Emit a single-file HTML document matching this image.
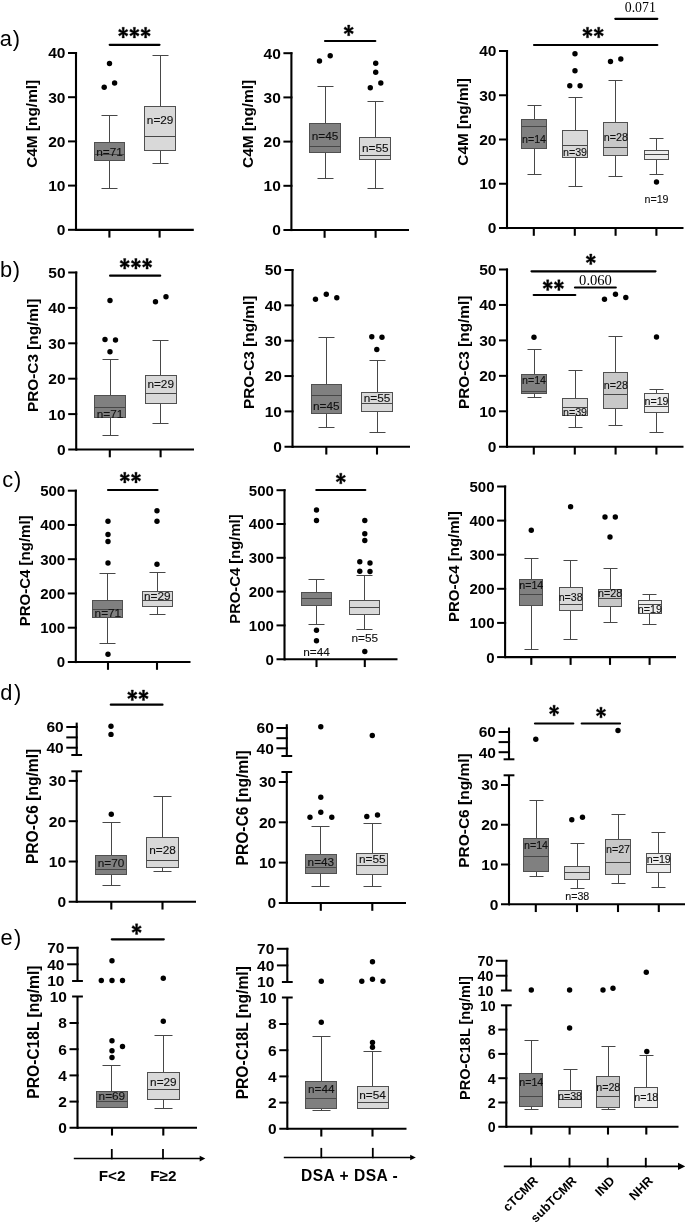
<!DOCTYPE html>
<html><head><meta charset="utf-8"><title>Figure</title>
<style>html,body{margin:0;padding:0;background:#fff;}svg{display:block;will-change:transform;}</style></head>
<body>
<svg width="685" height="1226" viewBox="0 0 685 1226">
<rect width="685" height="1226" fill="#fff"/>
<line x1="76" y1="52" x2="76" y2="230.9" stroke="#000" stroke-width="2.1" stroke-linecap="butt"/>
<line x1="68" y1="53" x2="77.05" y2="53" stroke="#000" stroke-width="2" stroke-linecap="butt"/>
<text x="65.4" y="58.4" font-family="'Liberation Sans', sans-serif" font-size="15.5" font-weight="bold" text-anchor="end" fill="#000">40</text>
<line x1="68" y1="97.2" x2="77.05" y2="97.2" stroke="#000" stroke-width="2" stroke-linecap="butt"/>
<text x="65.4" y="102.6" font-family="'Liberation Sans', sans-serif" font-size="15.5" font-weight="bold" text-anchor="end" fill="#000">30</text>
<line x1="68" y1="141.4" x2="77.05" y2="141.4" stroke="#000" stroke-width="2" stroke-linecap="butt"/>
<text x="65.4" y="146.8" font-family="'Liberation Sans', sans-serif" font-size="15.5" font-weight="bold" text-anchor="end" fill="#000">20</text>
<line x1="68" y1="185.6" x2="77.05" y2="185.6" stroke="#000" stroke-width="2" stroke-linecap="butt"/>
<text x="65.4" y="191" font-family="'Liberation Sans', sans-serif" font-size="15.5" font-weight="bold" text-anchor="end" fill="#000">10</text>
<line x1="68" y1="229.8" x2="77.05" y2="229.8" stroke="#000" stroke-width="2" stroke-linecap="butt"/>
<text x="65.4" y="235.2" font-family="'Liberation Sans', sans-serif" font-size="15.5" font-weight="bold" text-anchor="end" fill="#000">0</text>
<line x1="76" y1="229.8" x2="193.8" y2="229.8" stroke="#000" stroke-width="2.2" stroke-linecap="butt"/>
<line x1="109.4" y1="229.8" x2="109.4" y2="237.6" stroke="#000" stroke-width="2.1" stroke-linecap="butt"/>
<line x1="159.6" y1="229.8" x2="159.6" y2="237.6" stroke="#000" stroke-width="2.1" stroke-linecap="butt"/>
<text transform="translate(37.2 123.8) rotate(-90)" font-family="'Liberation Sans', sans-serif" font-size="15.4" font-weight="bold" text-anchor="middle" fill="#000">C4M [ng/ml]</text>
<line x1="109.5" y1="115.5" x2="109.5" y2="142.5" stroke="#474747" stroke-width="1" stroke-linecap="butt"/>
<line x1="101.5" y1="115.5" x2="117.5" y2="115.5" stroke="#474747" stroke-width="1" stroke-linecap="butt"/>
<line x1="109.5" y1="160.5" x2="109.5" y2="188.5" stroke="#474747" stroke-width="1" stroke-linecap="butt"/>
<line x1="101.5" y1="188.5" x2="117.5" y2="188.5" stroke="#474747" stroke-width="1" stroke-linecap="butt"/>
<rect x="94.5" y="142.5" width="30" height="18" fill="#808080" stroke="#505050" stroke-width="1"/>
<line x1="94.5" y1="154.5" x2="124.5" y2="154.5" stroke="#474747" stroke-width="1" stroke-linecap="butt"/>
<text x="109.5" y="155.82" font-family="'Liberation Sans', sans-serif" font-size="11.8"  text-anchor="middle" fill="#101010" stroke="#101010" stroke-width="0.12">n=71</text>
<line x1="160.5" y1="55.5" x2="160.5" y2="106.5" stroke="#474747" stroke-width="1" stroke-linecap="butt"/>
<line x1="152.5" y1="55.5" x2="168.5" y2="55.5" stroke="#474747" stroke-width="1" stroke-linecap="butt"/>
<line x1="160.5" y1="150.5" x2="160.5" y2="163.5" stroke="#474747" stroke-width="1" stroke-linecap="butt"/>
<line x1="152.5" y1="163.5" x2="168.5" y2="163.5" stroke="#474747" stroke-width="1" stroke-linecap="butt"/>
<rect x="144.5" y="106.5" width="31" height="44" fill="#d9d9d9" stroke="#505050" stroke-width="1"/>
<line x1="144.5" y1="136.5" x2="175.5" y2="136.5" stroke="#474747" stroke-width="1" stroke-linecap="butt"/>
<text x="160.15" y="123.92" font-family="'Liberation Sans', sans-serif" font-size="11.8"  text-anchor="middle" fill="#101010" stroke="#101010" stroke-width="0.12">n=29</text>
<circle cx="109.5" cy="63.5" r="2.7" fill="#000"/>
<circle cx="114.6" cy="83" r="2.7" fill="#000"/>
<circle cx="104.2" cy="87.2" r="2.7" fill="#000"/>
<line x1="109.7" y1="44.8" x2="159.5" y2="44.8" stroke="#000" stroke-width="2.2" stroke-linecap="round"/>
<path d="M123.9 32.6L124.35 27.3L122.05 27.3L122.5 32.6ZM123.55 33.21L128.04 30.95L126.89 29.14L122.85 31.99ZM122.85 33.21L126.89 36.25L128.04 34.07L123.55 31.99ZM123.55 31.99L119.51 28.95L118.36 31.13L122.85 33.21ZM122.85 31.99L118.36 34.25L119.51 36.06L123.55 33.21ZM122.5 32.6L122.05 37.9L124.35 37.9L123.9 32.6Z" fill="#000" stroke="#000" stroke-width="0.35" stroke-linejoin="round"/>
<path d="M135.1 32.6L135.55 27.3L133.25 27.3L133.7 32.6ZM134.75 33.21L139.24 30.95L138.09 29.14L134.05 31.99ZM134.05 33.21L138.09 36.25L139.24 34.07L134.75 31.99ZM134.75 31.99L130.71 28.95L129.56 31.13L134.05 33.21ZM134.05 31.99L129.56 34.25L130.71 36.06L134.75 33.21ZM133.7 32.6L133.25 37.9L135.55 37.9L135.1 32.6Z" fill="#000" stroke="#000" stroke-width="0.35" stroke-linejoin="round"/>
<path d="M146.3 32.6L146.75 27.3L144.45 27.3L144.9 32.6ZM145.95 33.21L150.44 30.95L149.29 29.14L145.25 31.99ZM145.25 33.21L149.29 36.25L150.44 34.07L145.95 31.99ZM145.95 31.99L141.91 28.95L140.76 31.13L145.25 33.21ZM145.25 31.99L140.76 34.25L141.91 36.06L145.95 33.21ZM144.9 32.6L144.45 37.9L146.75 37.9L146.3 32.6Z" fill="#000" stroke="#000" stroke-width="0.35" stroke-linejoin="round"/>
<line x1="291.4" y1="52.2" x2="291.4" y2="231.1" stroke="#000" stroke-width="2.1" stroke-linecap="butt"/>
<line x1="283.4" y1="53.2" x2="292.45" y2="53.2" stroke="#000" stroke-width="2" stroke-linecap="butt"/>
<text x="280.8" y="58.6" font-family="'Liberation Sans', sans-serif" font-size="15.5" font-weight="bold" text-anchor="end" fill="#000">40</text>
<line x1="283.4" y1="97.4" x2="292.45" y2="97.4" stroke="#000" stroke-width="2" stroke-linecap="butt"/>
<text x="280.8" y="102.8" font-family="'Liberation Sans', sans-serif" font-size="15.5" font-weight="bold" text-anchor="end" fill="#000">30</text>
<line x1="283.4" y1="141.6" x2="292.45" y2="141.6" stroke="#000" stroke-width="2" stroke-linecap="butt"/>
<text x="280.8" y="147" font-family="'Liberation Sans', sans-serif" font-size="15.5" font-weight="bold" text-anchor="end" fill="#000">20</text>
<line x1="283.4" y1="185.8" x2="292.45" y2="185.8" stroke="#000" stroke-width="2" stroke-linecap="butt"/>
<text x="280.8" y="191.2" font-family="'Liberation Sans', sans-serif" font-size="15.5" font-weight="bold" text-anchor="end" fill="#000">10</text>
<line x1="283.4" y1="230" x2="292.45" y2="230" stroke="#000" stroke-width="2" stroke-linecap="butt"/>
<text x="280.8" y="235.4" font-family="'Liberation Sans', sans-serif" font-size="15.5" font-weight="bold" text-anchor="end" fill="#000">0</text>
<line x1="291.4" y1="230" x2="409" y2="230" stroke="#000" stroke-width="2.2" stroke-linecap="butt"/>
<line x1="324.6" y1="230" x2="324.6" y2="237.8" stroke="#000" stroke-width="2.1" stroke-linecap="butt"/>
<line x1="375.6" y1="230" x2="375.6" y2="237.8" stroke="#000" stroke-width="2.1" stroke-linecap="butt"/>
<text transform="translate(252.7 123.85) rotate(-90)" font-family="'Liberation Sans', sans-serif" font-size="15.4" font-weight="bold" text-anchor="middle" fill="#000">C4M [ng/ml]</text>
<line x1="325.5" y1="86.5" x2="325.5" y2="123.5" stroke="#474747" stroke-width="1" stroke-linecap="butt"/>
<line x1="317.5" y1="86.5" x2="333.5" y2="86.5" stroke="#474747" stroke-width="1" stroke-linecap="butt"/>
<line x1="325.5" y1="152.5" x2="325.5" y2="178.5" stroke="#474747" stroke-width="1" stroke-linecap="butt"/>
<line x1="317.5" y1="178.5" x2="333.5" y2="178.5" stroke="#474747" stroke-width="1" stroke-linecap="butt"/>
<rect x="309.5" y="123.5" width="31" height="29" fill="#808080" stroke="#505050" stroke-width="1"/>
<line x1="309.5" y1="146.5" x2="340.5" y2="146.5" stroke="#474747" stroke-width="1" stroke-linecap="butt"/>
<text x="325.1" y="140.42" font-family="'Liberation Sans', sans-serif" font-size="11.8"  text-anchor="middle" fill="#101010" stroke="#101010" stroke-width="0.12">n=45</text>
<line x1="375.5" y1="101.5" x2="375.5" y2="137.5" stroke="#474747" stroke-width="1" stroke-linecap="butt"/>
<line x1="367.5" y1="101.5" x2="383.5" y2="101.5" stroke="#474747" stroke-width="1" stroke-linecap="butt"/>
<line x1="375.5" y1="159.5" x2="375.5" y2="188.5" stroke="#474747" stroke-width="1" stroke-linecap="butt"/>
<line x1="367.5" y1="188.5" x2="383.5" y2="188.5" stroke="#474747" stroke-width="1" stroke-linecap="butt"/>
<rect x="359.5" y="137.5" width="31" height="22" fill="#d9d9d9" stroke="#505050" stroke-width="1"/>
<line x1="359.5" y1="155.5" x2="390.5" y2="155.5" stroke="#474747" stroke-width="1" stroke-linecap="butt"/>
<text x="375.3" y="151.82" font-family="'Liberation Sans', sans-serif" font-size="11.8"  text-anchor="middle" fill="#101010" stroke="#101010" stroke-width="0.12">n=55</text>
<circle cx="319.5" cy="61" r="2.7" fill="#000"/>
<circle cx="330.2" cy="55.8" r="2.7" fill="#000"/>
<circle cx="375.7" cy="63.3" r="2.7" fill="#000"/>
<circle cx="375.7" cy="72.3" r="2.7" fill="#000"/>
<circle cx="380.8" cy="83" r="2.7" fill="#000"/>
<circle cx="370.3" cy="87.7" r="2.7" fill="#000"/>
<line x1="325" y1="41" x2="375.3" y2="41" stroke="#000" stroke-width="2.2" stroke-linecap="round"/>
<path d="M349.4 30.4L349.85 25.1L347.55 25.1L348 30.4ZM349.05 31.01L353.54 28.75L352.39 26.94L348.35 29.79ZM348.35 31.01L352.39 34.05L353.54 31.87L349.05 29.79ZM349.05 29.79L345.01 26.75L343.86 28.93L348.35 31.01ZM348.35 29.79L343.86 32.05L345.01 33.86L349.05 31.01ZM348 30.4L347.55 35.7L349.85 35.7L349.4 30.4Z" fill="#000" stroke="#000" stroke-width="0.35" stroke-linejoin="round"/>
<line x1="507" y1="50" x2="507" y2="229.1" stroke="#000" stroke-width="2.1" stroke-linecap="butt"/>
<line x1="499" y1="51" x2="508.05" y2="51" stroke="#000" stroke-width="2" stroke-linecap="butt"/>
<text x="496.4" y="56.4" font-family="'Liberation Sans', sans-serif" font-size="15.5" font-weight="bold" text-anchor="end" fill="#000">40</text>
<line x1="499" y1="95.25" x2="508.05" y2="95.25" stroke="#000" stroke-width="2" stroke-linecap="butt"/>
<text x="496.4" y="100.65" font-family="'Liberation Sans', sans-serif" font-size="15.5" font-weight="bold" text-anchor="end" fill="#000">30</text>
<line x1="499" y1="139.5" x2="508.05" y2="139.5" stroke="#000" stroke-width="2" stroke-linecap="butt"/>
<text x="496.4" y="144.9" font-family="'Liberation Sans', sans-serif" font-size="15.5" font-weight="bold" text-anchor="end" fill="#000">20</text>
<line x1="499" y1="183.75" x2="508.05" y2="183.75" stroke="#000" stroke-width="2" stroke-linecap="butt"/>
<text x="496.4" y="189.15" font-family="'Liberation Sans', sans-serif" font-size="15.5" font-weight="bold" text-anchor="end" fill="#000">10</text>
<line x1="499" y1="228" x2="508.05" y2="228" stroke="#000" stroke-width="2" stroke-linecap="butt"/>
<text x="496.4" y="233.4" font-family="'Liberation Sans', sans-serif" font-size="15.5" font-weight="bold" text-anchor="end" fill="#000">0</text>
<line x1="507" y1="228" x2="683.5" y2="228" stroke="#000" stroke-width="2.2" stroke-linecap="butt"/>
<line x1="533.8" y1="228" x2="533.8" y2="235.8" stroke="#000" stroke-width="2.1" stroke-linecap="butt"/>
<line x1="574.8" y1="228" x2="574.8" y2="235.8" stroke="#000" stroke-width="2.1" stroke-linecap="butt"/>
<line x1="615.6" y1="228" x2="615.6" y2="235.8" stroke="#000" stroke-width="2.1" stroke-linecap="butt"/>
<line x1="656.4" y1="228" x2="656.4" y2="235.8" stroke="#000" stroke-width="2.1" stroke-linecap="butt"/>
<text transform="translate(468.3 121.9) rotate(-90)" font-family="'Liberation Sans', sans-serif" font-size="15.3" font-weight="bold" text-anchor="middle" fill="#000">C4M [ng/ml]</text>
<line x1="534.5" y1="105.5" x2="534.5" y2="119.5" stroke="#474747" stroke-width="1" stroke-linecap="butt"/>
<line x1="527.5" y1="105.5" x2="541.5" y2="105.5" stroke="#474747" stroke-width="1" stroke-linecap="butt"/>
<line x1="534.5" y1="148.5" x2="534.5" y2="174.5" stroke="#474747" stroke-width="1" stroke-linecap="butt"/>
<line x1="527.5" y1="174.5" x2="541.5" y2="174.5" stroke="#474747" stroke-width="1" stroke-linecap="butt"/>
<rect x="521.5" y="119.5" width="25" height="29" fill="#808080" stroke="#505050" stroke-width="1"/>
<line x1="521.5" y1="126.5" x2="546.5" y2="126.5" stroke="#474747" stroke-width="1" stroke-linecap="butt"/>
<text x="534" y="142.53" font-family="'Liberation Sans', sans-serif" font-size="10.7"  text-anchor="middle" fill="#101010" stroke="#101010" stroke-width="0.12">n=14</text>
<line x1="575.5" y1="97.5" x2="575.5" y2="130.5" stroke="#474747" stroke-width="1" stroke-linecap="butt"/>
<line x1="568.5" y1="97.5" x2="582.5" y2="97.5" stroke="#474747" stroke-width="1" stroke-linecap="butt"/>
<line x1="575.5" y1="157.5" x2="575.5" y2="186.5" stroke="#474747" stroke-width="1" stroke-linecap="butt"/>
<line x1="568.5" y1="186.5" x2="582.5" y2="186.5" stroke="#474747" stroke-width="1" stroke-linecap="butt"/>
<rect x="562.5" y="130.5" width="25" height="27" fill="#d9d9d9" stroke="#505050" stroke-width="1"/>
<line x1="562.5" y1="145.5" x2="587.5" y2="145.5" stroke="#474747" stroke-width="1" stroke-linecap="butt"/>
<text x="575" y="155.53" font-family="'Liberation Sans', sans-serif" font-size="10.7"  text-anchor="middle" fill="#101010" stroke="#101010" stroke-width="0.12">n=39</text>
<line x1="615.5" y1="80.5" x2="615.5" y2="122.5" stroke="#474747" stroke-width="1" stroke-linecap="butt"/>
<line x1="608.5" y1="80.5" x2="622.5" y2="80.5" stroke="#474747" stroke-width="1" stroke-linecap="butt"/>
<line x1="615.5" y1="155.5" x2="615.5" y2="176.5" stroke="#474747" stroke-width="1" stroke-linecap="butt"/>
<line x1="608.5" y1="176.5" x2="622.5" y2="176.5" stroke="#474747" stroke-width="1" stroke-linecap="butt"/>
<rect x="603.5" y="122.5" width="24" height="33" fill="#c8c8c8" stroke="#505050" stroke-width="1"/>
<line x1="603.5" y1="147.5" x2="627.5" y2="147.5" stroke="#474747" stroke-width="1" stroke-linecap="butt"/>
<text x="615.8" y="140.53" font-family="'Liberation Sans', sans-serif" font-size="10.7"  text-anchor="middle" fill="#101010" stroke="#101010" stroke-width="0.12">n=28</text>
<line x1="656.5" y1="138.5" x2="656.5" y2="150.5" stroke="#474747" stroke-width="1" stroke-linecap="butt"/>
<line x1="649.5" y1="138.5" x2="663.5" y2="138.5" stroke="#474747" stroke-width="1" stroke-linecap="butt"/>
<line x1="656.5" y1="159.5" x2="656.5" y2="174.5" stroke="#474747" stroke-width="1" stroke-linecap="butt"/>
<line x1="649.5" y1="174.5" x2="663.5" y2="174.5" stroke="#474747" stroke-width="1" stroke-linecap="butt"/>
<rect x="644.5" y="150.5" width="24" height="9" fill="#ececec" stroke="#505050" stroke-width="1"/>
<line x1="644.5" y1="154.5" x2="668.5" y2="154.5" stroke="#474747" stroke-width="1" stroke-linecap="butt"/>
<text x="656.5" y="202.53" font-family="'Liberation Sans', sans-serif" font-size="10.7"  text-anchor="middle" fill="#101010" stroke="#101010" stroke-width="0.12">n=19</text>
<circle cx="575" cy="53.8" r="2.7" fill="#000"/>
<circle cx="575" cy="70.8" r="2.7" fill="#000"/>
<circle cx="569.8" cy="85.8" r="2.7" fill="#000"/>
<circle cx="580.1" cy="85.8" r="2.7" fill="#000"/>
<circle cx="610.5" cy="61.5" r="2.7" fill="#000"/>
<circle cx="620.8" cy="59" r="2.7" fill="#000"/>
<circle cx="656.5" cy="182" r="2.7" fill="#000"/>
<line x1="534" y1="45" x2="657.3" y2="45" stroke="#000" stroke-width="2.2" stroke-linecap="round"/>
<path d="M588.2 32.5L588.65 27.2L586.35 27.2L586.8 32.5ZM587.85 33.11L592.34 30.85L591.19 29.04L587.15 31.89ZM587.15 33.11L591.19 36.15L592.34 33.97L587.85 31.89ZM587.85 31.89L583.81 28.85L582.66 31.03L587.15 33.11ZM587.15 31.89L582.66 34.15L583.81 35.96L587.85 33.11ZM586.8 32.5L586.35 37.8L588.65 37.8L588.2 32.5Z" fill="#000" stroke="#000" stroke-width="0.35" stroke-linejoin="round"/>
<path d="M599.4 32.5L599.85 27.2L597.55 27.2L598 32.5ZM599.05 33.11L603.54 30.85L602.39 29.04L598.35 31.89ZM598.35 33.11L602.39 36.15L603.54 33.97L599.05 31.89ZM599.05 31.89L595.01 28.85L593.86 31.03L598.35 33.11ZM598.35 31.89L593.86 34.15L595.01 35.96L599.05 33.11ZM598 32.5L597.55 37.8L599.85 37.8L599.4 32.5Z" fill="#000" stroke="#000" stroke-width="0.35" stroke-linejoin="round"/>
<line x1="615.3" y1="18.8" x2="657.3" y2="18.8" stroke="#000" stroke-width="2.2" stroke-linecap="round"/>
<text x="640.3" y="11.8" font-family="'Liberation Serif', serif" font-size="13.8"  text-anchor="middle" fill="#000">0.071</text>
<line x1="76.2" y1="271.5" x2="76.2" y2="450.6" stroke="#000" stroke-width="2.1" stroke-linecap="butt"/>
<line x1="68.2" y1="272.5" x2="77.25" y2="272.5" stroke="#000" stroke-width="2" stroke-linecap="butt"/>
<text x="65.6" y="277.9" font-family="'Liberation Sans', sans-serif" font-size="15.5" font-weight="bold" text-anchor="end" fill="#000">50</text>
<line x1="68.2" y1="307.9" x2="77.25" y2="307.9" stroke="#000" stroke-width="2" stroke-linecap="butt"/>
<text x="65.6" y="313.3" font-family="'Liberation Sans', sans-serif" font-size="15.5" font-weight="bold" text-anchor="end" fill="#000">40</text>
<line x1="68.2" y1="343.3" x2="77.25" y2="343.3" stroke="#000" stroke-width="2" stroke-linecap="butt"/>
<text x="65.6" y="348.7" font-family="'Liberation Sans', sans-serif" font-size="15.5" font-weight="bold" text-anchor="end" fill="#000">30</text>
<line x1="68.2" y1="378.7" x2="77.25" y2="378.7" stroke="#000" stroke-width="2" stroke-linecap="butt"/>
<text x="65.6" y="384.1" font-family="'Liberation Sans', sans-serif" font-size="15.5" font-weight="bold" text-anchor="end" fill="#000">20</text>
<line x1="68.2" y1="414.1" x2="77.25" y2="414.1" stroke="#000" stroke-width="2" stroke-linecap="butt"/>
<text x="65.6" y="419.5" font-family="'Liberation Sans', sans-serif" font-size="15.5" font-weight="bold" text-anchor="end" fill="#000">10</text>
<line x1="68.2" y1="449.5" x2="77.25" y2="449.5" stroke="#000" stroke-width="2" stroke-linecap="butt"/>
<text x="65.6" y="454.9" font-family="'Liberation Sans', sans-serif" font-size="15.5" font-weight="bold" text-anchor="end" fill="#000">0</text>
<line x1="76.2" y1="449.5" x2="194" y2="449.5" stroke="#000" stroke-width="2.2" stroke-linecap="butt"/>
<line x1="109.8" y1="449.5" x2="109.8" y2="457.3" stroke="#000" stroke-width="2.1" stroke-linecap="butt"/>
<line x1="160.6" y1="449.5" x2="160.6" y2="457.3" stroke="#000" stroke-width="2.1" stroke-linecap="butt"/>
<text transform="translate(38.2 355.3) rotate(-90)" font-family="'Liberation Sans', sans-serif" font-size="15.35" font-weight="bold" text-anchor="middle" fill="#000">PRO-C3 [ng/ml]</text>
<line x1="110.5" y1="359.5" x2="110.5" y2="395.5" stroke="#474747" stroke-width="1" stroke-linecap="butt"/>
<line x1="102.5" y1="359.5" x2="118.5" y2="359.5" stroke="#474747" stroke-width="1" stroke-linecap="butt"/>
<line x1="110.5" y1="417.5" x2="110.5" y2="435.5" stroke="#474747" stroke-width="1" stroke-linecap="butt"/>
<line x1="102.5" y1="435.5" x2="118.5" y2="435.5" stroke="#474747" stroke-width="1" stroke-linecap="butt"/>
<rect x="94.5" y="395.5" width="31" height="22" fill="#808080" stroke="#505050" stroke-width="1"/>
<line x1="94.5" y1="407.5" x2="125.5" y2="407.5" stroke="#474747" stroke-width="1" stroke-linecap="butt"/>
<text x="110.1" y="417.62" font-family="'Liberation Sans', sans-serif" font-size="11.8"  text-anchor="middle" fill="#101010" stroke="#101010" stroke-width="0.12">n=71</text>
<line x1="160.5" y1="340.5" x2="160.5" y2="375.5" stroke="#474747" stroke-width="1" stroke-linecap="butt"/>
<line x1="152.5" y1="340.5" x2="168.5" y2="340.5" stroke="#474747" stroke-width="1" stroke-linecap="butt"/>
<line x1="160.5" y1="403.5" x2="160.5" y2="423.5" stroke="#474747" stroke-width="1" stroke-linecap="butt"/>
<line x1="152.5" y1="423.5" x2="168.5" y2="423.5" stroke="#474747" stroke-width="1" stroke-linecap="butt"/>
<rect x="145.5" y="375.5" width="31" height="28" fill="#d9d9d9" stroke="#505050" stroke-width="1"/>
<line x1="145.5" y1="393.5" x2="176.5" y2="393.5" stroke="#474747" stroke-width="1" stroke-linecap="butt"/>
<text x="160.7" y="388.42" font-family="'Liberation Sans', sans-serif" font-size="11.8"  text-anchor="middle" fill="#101010" stroke="#101010" stroke-width="0.12">n=29</text>
<circle cx="110" cy="300.5" r="2.7" fill="#000"/>
<circle cx="105" cy="339.5" r="2.7" fill="#000"/>
<circle cx="115.5" cy="340" r="2.7" fill="#000"/>
<circle cx="110" cy="351.8" r="2.7" fill="#000"/>
<circle cx="155.5" cy="301.8" r="2.7" fill="#000"/>
<circle cx="166" cy="296.8" r="2.7" fill="#000"/>
<line x1="110.1" y1="275.7" x2="160.2" y2="275.7" stroke="#000" stroke-width="2.2" stroke-linecap="round"/>
<path d="M125.4 263.8L125.85 258.5L123.55 258.5L124 263.8ZM125.05 264.41L129.54 262.15L128.39 260.34L124.35 263.19ZM124.35 264.41L128.39 267.45L129.54 265.27L125.05 263.19ZM125.05 263.19L121.01 260.15L119.86 262.33L124.35 264.41ZM124.35 263.19L119.86 265.45L121.01 267.26L125.05 264.41ZM124 263.8L123.55 269.1L125.85 269.1L125.4 263.8Z" fill="#000" stroke="#000" stroke-width="0.35" stroke-linejoin="round"/>
<path d="M136.6 263.8L137.05 258.5L134.75 258.5L135.2 263.8ZM136.25 264.41L140.74 262.15L139.59 260.34L135.55 263.19ZM135.55 264.41L139.59 267.45L140.74 265.27L136.25 263.19ZM136.25 263.19L132.21 260.15L131.06 262.33L135.55 264.41ZM135.55 263.19L131.06 265.45L132.21 267.26L136.25 264.41ZM135.2 263.8L134.75 269.1L137.05 269.1L136.6 263.8Z" fill="#000" stroke="#000" stroke-width="0.35" stroke-linejoin="round"/>
<path d="M147.8 263.8L148.25 258.5L145.95 258.5L146.4 263.8ZM147.45 264.41L151.94 262.15L150.79 260.34L146.75 263.19ZM146.75 264.41L150.79 267.45L151.94 265.27L147.45 263.19ZM147.45 263.19L143.41 260.15L142.26 262.33L146.75 264.41ZM146.75 263.19L142.26 265.45L143.41 267.26L147.45 264.41ZM146.4 263.8L145.95 269.1L148.25 269.1L147.8 263.8Z" fill="#000" stroke="#000" stroke-width="0.35" stroke-linejoin="round"/>
<line x1="292.5" y1="269" x2="292.5" y2="447.9" stroke="#000" stroke-width="2.1" stroke-linecap="butt"/>
<line x1="284.5" y1="270" x2="293.55" y2="270" stroke="#000" stroke-width="2" stroke-linecap="butt"/>
<text x="281.9" y="275.4" font-family="'Liberation Sans', sans-serif" font-size="15.5" font-weight="bold" text-anchor="end" fill="#000">50</text>
<line x1="284.5" y1="305.35" x2="293.55" y2="305.35" stroke="#000" stroke-width="2" stroke-linecap="butt"/>
<text x="281.9" y="310.75" font-family="'Liberation Sans', sans-serif" font-size="15.5" font-weight="bold" text-anchor="end" fill="#000">40</text>
<line x1="284.5" y1="340.7" x2="293.55" y2="340.7" stroke="#000" stroke-width="2" stroke-linecap="butt"/>
<text x="281.9" y="346.1" font-family="'Liberation Sans', sans-serif" font-size="15.5" font-weight="bold" text-anchor="end" fill="#000">30</text>
<line x1="284.5" y1="376.05" x2="293.55" y2="376.05" stroke="#000" stroke-width="2" stroke-linecap="butt"/>
<text x="281.9" y="381.45" font-family="'Liberation Sans', sans-serif" font-size="15.5" font-weight="bold" text-anchor="end" fill="#000">20</text>
<line x1="284.5" y1="411.4" x2="293.55" y2="411.4" stroke="#000" stroke-width="2" stroke-linecap="butt"/>
<text x="281.9" y="416.8" font-family="'Liberation Sans', sans-serif" font-size="15.5" font-weight="bold" text-anchor="end" fill="#000">10</text>
<line x1="284.5" y1="446.75" x2="293.55" y2="446.75" stroke="#000" stroke-width="2" stroke-linecap="butt"/>
<text x="281.9" y="452.15" font-family="'Liberation Sans', sans-serif" font-size="15.5" font-weight="bold" text-anchor="end" fill="#000">0</text>
<line x1="292.5" y1="446.75" x2="410" y2="446.75" stroke="#000" stroke-width="2.2" stroke-linecap="butt"/>
<line x1="326.3" y1="446.75" x2="326.3" y2="454.55" stroke="#000" stroke-width="2.1" stroke-linecap="butt"/>
<line x1="377" y1="446.75" x2="377" y2="454.55" stroke="#000" stroke-width="2.1" stroke-linecap="butt"/>
<text transform="translate(254 352.4) rotate(-90)" font-family="'Liberation Sans', sans-serif" font-size="15.35" font-weight="bold" text-anchor="middle" fill="#000">PRO-C3 [ng/ml]</text>
<line x1="326.5" y1="337.5" x2="326.5" y2="384.5" stroke="#474747" stroke-width="1" stroke-linecap="butt"/>
<line x1="318.5" y1="337.5" x2="334.5" y2="337.5" stroke="#474747" stroke-width="1" stroke-linecap="butt"/>
<line x1="326.5" y1="413.5" x2="326.5" y2="427.5" stroke="#474747" stroke-width="1" stroke-linecap="butt"/>
<line x1="318.5" y1="427.5" x2="334.5" y2="427.5" stroke="#474747" stroke-width="1" stroke-linecap="butt"/>
<rect x="311.5" y="384.5" width="30" height="29" fill="#808080" stroke="#505050" stroke-width="1"/>
<line x1="311.5" y1="395.5" x2="341.5" y2="395.5" stroke="#474747" stroke-width="1" stroke-linecap="butt"/>
<text x="326.35" y="409.92" font-family="'Liberation Sans', sans-serif" font-size="11.8"  text-anchor="middle" fill="#101010" stroke="#101010" stroke-width="0.12">n=45</text>
<line x1="377.5" y1="360.5" x2="377.5" y2="392.5" stroke="#474747" stroke-width="1" stroke-linecap="butt"/>
<line x1="369.5" y1="360.5" x2="385.5" y2="360.5" stroke="#474747" stroke-width="1" stroke-linecap="butt"/>
<line x1="377.5" y1="411.5" x2="377.5" y2="432.5" stroke="#474747" stroke-width="1" stroke-linecap="butt"/>
<line x1="369.5" y1="432.5" x2="385.5" y2="432.5" stroke="#474747" stroke-width="1" stroke-linecap="butt"/>
<rect x="361.5" y="392.5" width="31" height="19" fill="#d9d9d9" stroke="#505050" stroke-width="1"/>
<line x1="361.5" y1="403.5" x2="392.5" y2="403.5" stroke="#474747" stroke-width="1" stroke-linecap="butt"/>
<text x="377" y="401.62" font-family="'Liberation Sans', sans-serif" font-size="11.8"  text-anchor="middle" fill="#101010" stroke="#101010" stroke-width="0.12">n=55</text>
<circle cx="315.5" cy="299.3" r="2.7" fill="#000"/>
<circle cx="326.3" cy="294.3" r="2.7" fill="#000"/>
<circle cx="336.8" cy="297.8" r="2.7" fill="#000"/>
<circle cx="371.8" cy="336.8" r="2.7" fill="#000"/>
<circle cx="382" cy="337.3" r="2.7" fill="#000"/>
<circle cx="376.8" cy="349.5" r="2.7" fill="#000"/>
<line x1="507" y1="268.5" x2="507" y2="447.9" stroke="#000" stroke-width="2.1" stroke-linecap="butt"/>
<line x1="499" y1="269.5" x2="508.05" y2="269.5" stroke="#000" stroke-width="2" stroke-linecap="butt"/>
<text x="496.4" y="274.9" font-family="'Liberation Sans', sans-serif" font-size="15.5" font-weight="bold" text-anchor="end" fill="#000">50</text>
<line x1="499" y1="304.95" x2="508.05" y2="304.95" stroke="#000" stroke-width="2" stroke-linecap="butt"/>
<text x="496.4" y="310.35" font-family="'Liberation Sans', sans-serif" font-size="15.5" font-weight="bold" text-anchor="end" fill="#000">40</text>
<line x1="499" y1="340.4" x2="508.05" y2="340.4" stroke="#000" stroke-width="2" stroke-linecap="butt"/>
<text x="496.4" y="345.8" font-family="'Liberation Sans', sans-serif" font-size="15.5" font-weight="bold" text-anchor="end" fill="#000">30</text>
<line x1="499" y1="375.85" x2="508.05" y2="375.85" stroke="#000" stroke-width="2" stroke-linecap="butt"/>
<text x="496.4" y="381.25" font-family="'Liberation Sans', sans-serif" font-size="15.5" font-weight="bold" text-anchor="end" fill="#000">20</text>
<line x1="499" y1="411.3" x2="508.05" y2="411.3" stroke="#000" stroke-width="2" stroke-linecap="butt"/>
<text x="496.4" y="416.7" font-family="'Liberation Sans', sans-serif" font-size="15.5" font-weight="bold" text-anchor="end" fill="#000">10</text>
<line x1="499" y1="446.75" x2="508.05" y2="446.75" stroke="#000" stroke-width="2" stroke-linecap="butt"/>
<text x="496.4" y="452.15" font-family="'Liberation Sans', sans-serif" font-size="15.5" font-weight="bold" text-anchor="end" fill="#000">0</text>
<line x1="507" y1="446.75" x2="683.5" y2="446.75" stroke="#000" stroke-width="2.2" stroke-linecap="butt"/>
<line x1="533.8" y1="446.75" x2="533.8" y2="454.55" stroke="#000" stroke-width="2.1" stroke-linecap="butt"/>
<line x1="574.8" y1="446.75" x2="574.8" y2="454.55" stroke="#000" stroke-width="2.1" stroke-linecap="butt"/>
<line x1="615.6" y1="446.75" x2="615.6" y2="454.55" stroke="#000" stroke-width="2.1" stroke-linecap="butt"/>
<line x1="656.4" y1="446.75" x2="656.4" y2="454.55" stroke="#000" stroke-width="2.1" stroke-linecap="butt"/>
<text transform="translate(468.6 352.4) rotate(-90)" font-family="'Liberation Sans', sans-serif" font-size="15.35" font-weight="bold" text-anchor="middle" fill="#000">PRO-C3 [ng/ml]</text>
<line x1="534.5" y1="349.5" x2="534.5" y2="374.5" stroke="#474747" stroke-width="1" stroke-linecap="butt"/>
<line x1="527.5" y1="349.5" x2="541.5" y2="349.5" stroke="#474747" stroke-width="1" stroke-linecap="butt"/>
<line x1="534.5" y1="393.5" x2="534.5" y2="397.5" stroke="#474747" stroke-width="1" stroke-linecap="butt"/>
<line x1="527.5" y1="397.5" x2="541.5" y2="397.5" stroke="#474747" stroke-width="1" stroke-linecap="butt"/>
<rect x="521.5" y="374.5" width="25" height="19" fill="#808080" stroke="#505050" stroke-width="1"/>
<line x1="521.5" y1="391.5" x2="546.5" y2="391.5" stroke="#474747" stroke-width="1" stroke-linecap="butt"/>
<text x="534" y="384.23" font-family="'Liberation Sans', sans-serif" font-size="10.7"  text-anchor="middle" fill="#101010" stroke="#101010" stroke-width="0.12">n=14</text>
<line x1="575.5" y1="370.5" x2="575.5" y2="398.5" stroke="#474747" stroke-width="1" stroke-linecap="butt"/>
<line x1="568.5" y1="370.5" x2="582.5" y2="370.5" stroke="#474747" stroke-width="1" stroke-linecap="butt"/>
<line x1="575.5" y1="415.5" x2="575.5" y2="427.5" stroke="#474747" stroke-width="1" stroke-linecap="butt"/>
<line x1="568.5" y1="427.5" x2="582.5" y2="427.5" stroke="#474747" stroke-width="1" stroke-linecap="butt"/>
<rect x="562.5" y="398.5" width="25" height="17" fill="#d9d9d9" stroke="#505050" stroke-width="1"/>
<line x1="562.5" y1="407.5" x2="587.5" y2="407.5" stroke="#474747" stroke-width="1" stroke-linecap="butt"/>
<text x="575" y="415.53" font-family="'Liberation Sans', sans-serif" font-size="10.7"  text-anchor="middle" fill="#101010" stroke="#101010" stroke-width="0.12">n=39</text>
<line x1="615.5" y1="336.5" x2="615.5" y2="372.5" stroke="#474747" stroke-width="1" stroke-linecap="butt"/>
<line x1="608.5" y1="336.5" x2="622.5" y2="336.5" stroke="#474747" stroke-width="1" stroke-linecap="butt"/>
<line x1="615.5" y1="408.5" x2="615.5" y2="425.5" stroke="#474747" stroke-width="1" stroke-linecap="butt"/>
<line x1="608.5" y1="425.5" x2="622.5" y2="425.5" stroke="#474747" stroke-width="1" stroke-linecap="butt"/>
<rect x="603.5" y="372.5" width="24" height="36" fill="#c8c8c8" stroke="#505050" stroke-width="1"/>
<line x1="603.5" y1="394.5" x2="627.5" y2="394.5" stroke="#474747" stroke-width="1" stroke-linecap="butt"/>
<text x="615.85" y="388.83" font-family="'Liberation Sans', sans-serif" font-size="10.7"  text-anchor="middle" fill="#101010" stroke="#101010" stroke-width="0.12">n=28</text>
<line x1="656.5" y1="389.5" x2="656.5" y2="393.5" stroke="#474747" stroke-width="1" stroke-linecap="butt"/>
<line x1="649.5" y1="389.5" x2="663.5" y2="389.5" stroke="#474747" stroke-width="1" stroke-linecap="butt"/>
<line x1="656.5" y1="412.5" x2="656.5" y2="432.5" stroke="#474747" stroke-width="1" stroke-linecap="butt"/>
<line x1="649.5" y1="432.5" x2="663.5" y2="432.5" stroke="#474747" stroke-width="1" stroke-linecap="butt"/>
<rect x="644.5" y="393.5" width="24" height="19" fill="#ececec" stroke="#505050" stroke-width="1"/>
<line x1="644.5" y1="406.5" x2="668.5" y2="406.5" stroke="#474747" stroke-width="1" stroke-linecap="butt"/>
<text x="656.5" y="404.53" font-family="'Liberation Sans', sans-serif" font-size="10.7"  text-anchor="middle" fill="#101010" stroke="#101010" stroke-width="0.12">n=19</text>
<circle cx="534" cy="337.3" r="2.7" fill="#000"/>
<circle cx="604.5" cy="299.3" r="2.7" fill="#000"/>
<circle cx="615.5" cy="294.3" r="2.7" fill="#000"/>
<circle cx="625.8" cy="297.5" r="2.7" fill="#000"/>
<circle cx="656.5" cy="337" r="2.7" fill="#000"/>
<line x1="531.5" y1="271.3" x2="655.5" y2="271.3" stroke="#000" stroke-width="2.2" stroke-linecap="round"/>
<path d="M591.5 259.3L591.95 254L589.65 254L590.1 259.3ZM591.15 259.91L595.64 257.65L594.49 255.84L590.45 258.69ZM590.45 259.91L594.49 262.95L595.64 260.77L591.15 258.69ZM591.15 258.69L587.11 255.65L585.96 257.83L590.45 259.91ZM590.45 258.69L585.96 260.95L587.11 262.76L591.15 259.91ZM590.1 259.3L589.65 264.6L591.95 264.6L591.5 259.3Z" fill="#000" stroke="#000" stroke-width="0.35" stroke-linejoin="round"/>
<line x1="533.7" y1="295" x2="575.3" y2="295" stroke="#000" stroke-width="2.2" stroke-linecap="round"/>
<path d="M548.4 285.1L548.85 279.8L546.55 279.8L547 285.1ZM548.05 285.71L552.54 283.45L551.39 281.64L547.35 284.49ZM547.35 285.71L551.39 288.75L552.54 286.57L548.05 284.49ZM548.05 284.49L544.01 281.45L542.86 283.63L547.35 285.71ZM547.35 284.49L542.86 286.75L544.01 288.56L548.05 285.71ZM547 285.1L546.55 290.4L548.85 290.4L548.4 285.1Z" fill="#000" stroke="#000" stroke-width="0.35" stroke-linejoin="round"/>
<path d="M559.6 285.1L560.05 279.8L557.75 279.8L558.2 285.1ZM559.25 285.71L563.74 283.45L562.59 281.64L558.55 284.49ZM558.55 285.71L562.59 288.75L563.74 286.57L559.25 284.49ZM559.25 284.49L555.21 281.45L554.06 283.63L558.55 285.71ZM558.55 284.49L554.06 286.75L555.21 288.56L559.25 285.71ZM558.2 285.1L557.75 290.4L560.05 290.4L559.6 285.1Z" fill="#000" stroke="#000" stroke-width="0.35" stroke-linejoin="round"/>
<line x1="575" y1="287.5" x2="615.8" y2="287.5" stroke="#000" stroke-width="2.2" stroke-linecap="round"/>
<text x="595.5" y="284.8" font-family="'Liberation Serif', serif" font-size="14.6"  text-anchor="middle" fill="#000">0.060</text>
<line x1="75.8" y1="489.7" x2="75.8" y2="663.1" stroke="#000" stroke-width="2.1" stroke-linecap="butt"/>
<line x1="67.8" y1="490.7" x2="76.85" y2="490.7" stroke="#000" stroke-width="2" stroke-linecap="butt"/>
<text x="65.2" y="496.1" font-family="'Liberation Sans', sans-serif" font-size="15" font-weight="bold" text-anchor="end" fill="#000">500</text>
<line x1="67.8" y1="524.95" x2="76.85" y2="524.95" stroke="#000" stroke-width="2" stroke-linecap="butt"/>
<text x="65.2" y="530.35" font-family="'Liberation Sans', sans-serif" font-size="15" font-weight="bold" text-anchor="end" fill="#000">400</text>
<line x1="67.8" y1="559.2" x2="76.85" y2="559.2" stroke="#000" stroke-width="2" stroke-linecap="butt"/>
<text x="65.2" y="564.6" font-family="'Liberation Sans', sans-serif" font-size="15" font-weight="bold" text-anchor="end" fill="#000">300</text>
<line x1="67.8" y1="593.45" x2="76.85" y2="593.45" stroke="#000" stroke-width="2" stroke-linecap="butt"/>
<text x="65.2" y="598.85" font-family="'Liberation Sans', sans-serif" font-size="15" font-weight="bold" text-anchor="end" fill="#000">200</text>
<line x1="67.8" y1="627.7" x2="76.85" y2="627.7" stroke="#000" stroke-width="2" stroke-linecap="butt"/>
<text x="65.2" y="633.1" font-family="'Liberation Sans', sans-serif" font-size="15" font-weight="bold" text-anchor="end" fill="#000">100</text>
<line x1="67.8" y1="662" x2="76.85" y2="662" stroke="#000" stroke-width="2" stroke-linecap="butt"/>
<text x="65.2" y="667.4" font-family="'Liberation Sans', sans-serif" font-size="15" font-weight="bold" text-anchor="end" fill="#000">0</text>
<line x1="75.8" y1="662" x2="190.5" y2="662" stroke="#000" stroke-width="2.2" stroke-linecap="butt"/>
<line x1="108" y1="662" x2="108" y2="669.8" stroke="#000" stroke-width="2.1" stroke-linecap="butt"/>
<line x1="157" y1="662" x2="157" y2="669.8" stroke="#000" stroke-width="2.1" stroke-linecap="butt"/>
<text transform="translate(30.1 570.85) rotate(-90)" font-family="'Liberation Sans', sans-serif" font-size="15" font-weight="bold" text-anchor="middle" fill="#000">PRO-C4 [ng/ml]</text>
<line x1="107.5" y1="573.5" x2="107.5" y2="600.5" stroke="#474747" stroke-width="1" stroke-linecap="butt"/>
<line x1="99.5" y1="573.5" x2="115.5" y2="573.5" stroke="#474747" stroke-width="1" stroke-linecap="butt"/>
<line x1="107.5" y1="617.5" x2="107.5" y2="643.5" stroke="#474747" stroke-width="1" stroke-linecap="butt"/>
<line x1="99.5" y1="643.5" x2="115.5" y2="643.5" stroke="#474747" stroke-width="1" stroke-linecap="butt"/>
<rect x="92.5" y="600.5" width="30" height="17" fill="#808080" stroke="#505050" stroke-width="1"/>
<line x1="92.5" y1="609.5" x2="122.5" y2="609.5" stroke="#474747" stroke-width="1" stroke-linecap="butt"/>
<text x="107.9" y="617.22" font-family="'Liberation Sans', sans-serif" font-size="11.8"  text-anchor="middle" fill="#101010" stroke="#101010" stroke-width="0.12">n=71</text>
<line x1="157.5" y1="572.5" x2="157.5" y2="591.5" stroke="#474747" stroke-width="1" stroke-linecap="butt"/>
<line x1="149.5" y1="572.5" x2="165.5" y2="572.5" stroke="#474747" stroke-width="1" stroke-linecap="butt"/>
<line x1="157.5" y1="606.5" x2="157.5" y2="614.5" stroke="#474747" stroke-width="1" stroke-linecap="butt"/>
<line x1="149.5" y1="614.5" x2="165.5" y2="614.5" stroke="#474747" stroke-width="1" stroke-linecap="butt"/>
<rect x="142.5" y="591.5" width="30" height="15" fill="#d9d9d9" stroke="#505050" stroke-width="1"/>
<line x1="142.5" y1="600.5" x2="172.5" y2="600.5" stroke="#474747" stroke-width="1" stroke-linecap="butt"/>
<text x="157.3" y="600.42" font-family="'Liberation Sans', sans-serif" font-size="11.8"  text-anchor="middle" fill="#101010" stroke="#101010" stroke-width="0.12">n=29</text>
<circle cx="108" cy="521.3" r="2.7" fill="#000"/>
<circle cx="108" cy="534.5" r="2.7" fill="#000"/>
<circle cx="108" cy="541.5" r="2.7" fill="#000"/>
<circle cx="108" cy="563" r="2.7" fill="#000"/>
<circle cx="108" cy="654.3" r="2.7" fill="#000"/>
<circle cx="157" cy="510.8" r="2.7" fill="#000"/>
<circle cx="157" cy="521.3" r="2.7" fill="#000"/>
<circle cx="157" cy="564.3" r="2.7" fill="#000"/>
<line x1="108" y1="490" x2="157.5" y2="490" stroke="#000" stroke-width="2.2" stroke-linecap="round"/>
<path d="M125.5 477.6L125.95 472.3L123.65 472.3L124.1 477.6ZM125.15 478.21L129.64 475.95L128.49 474.14L124.45 476.99ZM124.45 478.21L128.49 481.25L129.64 479.07L125.15 476.99ZM125.15 476.99L121.11 473.95L119.96 476.13L124.45 478.21ZM124.45 476.99L119.96 479.25L121.11 481.06L125.15 478.21ZM124.1 477.6L123.65 482.9L125.95 482.9L125.5 477.6Z" fill="#000" stroke="#000" stroke-width="0.35" stroke-linejoin="round"/>
<path d="M136.7 477.6L137.15 472.3L134.85 472.3L135.3 477.6ZM136.35 478.21L140.84 475.95L139.69 474.14L135.65 476.99ZM135.65 478.21L139.69 481.25L140.84 479.07L136.35 476.99ZM136.35 476.99L132.31 473.95L131.16 476.13L135.65 478.21ZM135.65 476.99L131.16 479.25L132.31 481.06L136.35 478.21ZM135.3 477.6L134.85 482.9L137.15 482.9L136.7 477.6Z" fill="#000" stroke="#000" stroke-width="0.35" stroke-linejoin="round"/>
<line x1="284.5" y1="489.2" x2="284.5" y2="660.4" stroke="#000" stroke-width="2.1" stroke-linecap="butt"/>
<line x1="276.5" y1="490.2" x2="285.55" y2="490.2" stroke="#000" stroke-width="2" stroke-linecap="butt"/>
<text x="273.9" y="495.6" font-family="'Liberation Sans', sans-serif" font-size="15" font-weight="bold" text-anchor="end" fill="#000">500</text>
<line x1="276.5" y1="524" x2="285.55" y2="524" stroke="#000" stroke-width="2" stroke-linecap="butt"/>
<text x="273.9" y="529.4" font-family="'Liberation Sans', sans-serif" font-size="15" font-weight="bold" text-anchor="end" fill="#000">400</text>
<line x1="276.5" y1="557.8" x2="285.55" y2="557.8" stroke="#000" stroke-width="2" stroke-linecap="butt"/>
<text x="273.9" y="563.2" font-family="'Liberation Sans', sans-serif" font-size="15" font-weight="bold" text-anchor="end" fill="#000">300</text>
<line x1="276.5" y1="591.6" x2="285.55" y2="591.6" stroke="#000" stroke-width="2" stroke-linecap="butt"/>
<text x="273.9" y="597" font-family="'Liberation Sans', sans-serif" font-size="15" font-weight="bold" text-anchor="end" fill="#000">200</text>
<line x1="276.5" y1="625.4" x2="285.55" y2="625.4" stroke="#000" stroke-width="2" stroke-linecap="butt"/>
<text x="273.9" y="630.8" font-family="'Liberation Sans', sans-serif" font-size="15" font-weight="bold" text-anchor="end" fill="#000">100</text>
<line x1="276.5" y1="659.25" x2="285.55" y2="659.25" stroke="#000" stroke-width="2" stroke-linecap="butt"/>
<text x="273.9" y="664.65" font-family="'Liberation Sans', sans-serif" font-size="15" font-weight="bold" text-anchor="end" fill="#000">0</text>
<line x1="284.5" y1="659.25" x2="397.5" y2="659.25" stroke="#000" stroke-width="2.2" stroke-linecap="butt"/>
<line x1="316.5" y1="659.25" x2="316.5" y2="667.05" stroke="#000" stroke-width="2.1" stroke-linecap="butt"/>
<line x1="364.8" y1="659.25" x2="364.8" y2="667.05" stroke="#000" stroke-width="2.1" stroke-linecap="butt"/>
<text transform="translate(240.1 569.05) rotate(-90)" font-family="'Liberation Sans', sans-serif" font-size="14.8" font-weight="bold" text-anchor="middle" fill="#000">PRO-C4 [ng/ml]</text>
<line x1="316.5" y1="579.5" x2="316.5" y2="592.5" stroke="#474747" stroke-width="1" stroke-linecap="butt"/>
<line x1="308.5" y1="579.5" x2="324.5" y2="579.5" stroke="#474747" stroke-width="1" stroke-linecap="butt"/>
<line x1="316.5" y1="605.5" x2="316.5" y2="624.5" stroke="#474747" stroke-width="1" stroke-linecap="butt"/>
<line x1="308.5" y1="624.5" x2="324.5" y2="624.5" stroke="#474747" stroke-width="1" stroke-linecap="butt"/>
<rect x="301.5" y="592.5" width="30" height="13" fill="#808080" stroke="#505050" stroke-width="1"/>
<line x1="301.5" y1="598.5" x2="331.5" y2="598.5" stroke="#474747" stroke-width="1" stroke-linecap="butt"/>
<text x="316.5" y="656.22" font-family="'Liberation Sans', sans-serif" font-size="11.8"  text-anchor="middle" fill="#101010" stroke="#101010" stroke-width="0.12">n=44</text>
<line x1="364.5" y1="575.5" x2="364.5" y2="600.5" stroke="#474747" stroke-width="1" stroke-linecap="butt"/>
<line x1="356.5" y1="575.5" x2="372.5" y2="575.5" stroke="#474747" stroke-width="1" stroke-linecap="butt"/>
<line x1="364.5" y1="614.5" x2="364.5" y2="629.5" stroke="#474747" stroke-width="1" stroke-linecap="butt"/>
<line x1="356.5" y1="629.5" x2="372.5" y2="629.5" stroke="#474747" stroke-width="1" stroke-linecap="butt"/>
<rect x="349.5" y="600.5" width="30" height="14" fill="#d9d9d9" stroke="#505050" stroke-width="1"/>
<line x1="349.5" y1="607.5" x2="379.5" y2="607.5" stroke="#474747" stroke-width="1" stroke-linecap="butt"/>
<text x="364.75" y="642.42" font-family="'Liberation Sans', sans-serif" font-size="11.8"  text-anchor="middle" fill="#101010" stroke="#101010" stroke-width="0.12">n=55</text>
<circle cx="316.5" cy="510" r="2.7" fill="#000"/>
<circle cx="316.5" cy="520.5" r="2.7" fill="#000"/>
<circle cx="316.5" cy="630.3" r="2.7" fill="#000"/>
<circle cx="316.5" cy="640.8" r="2.7" fill="#000"/>
<circle cx="364.8" cy="520.5" r="2.7" fill="#000"/>
<circle cx="364.8" cy="533.8" r="2.7" fill="#000"/>
<circle cx="364.8" cy="540.5" r="2.7" fill="#000"/>
<circle cx="359.8" cy="561.8" r="2.7" fill="#000"/>
<circle cx="370" cy="563" r="2.7" fill="#000"/>
<circle cx="359.8" cy="571.3" r="2.7" fill="#000"/>
<circle cx="370" cy="571.5" r="2.7" fill="#000"/>
<circle cx="364.8" cy="651.5" r="2.7" fill="#000"/>
<line x1="316.3" y1="490" x2="365.3" y2="490" stroke="#000" stroke-width="2.2" stroke-linecap="round"/>
<path d="M341.5 478.5L341.95 473.2L339.65 473.2L340.1 478.5ZM341.15 479.11L345.64 476.85L344.49 475.04L340.45 477.89ZM340.45 479.11L344.49 482.15L345.64 479.97L341.15 477.89ZM341.15 477.89L337.11 474.85L335.96 477.03L340.45 479.11ZM340.45 477.89L335.96 480.15L337.11 481.96L341.15 479.11ZM340.1 478.5L339.65 483.8L341.95 483.8L341.5 478.5Z" fill="#000" stroke="#000" stroke-width="0.35" stroke-linejoin="round"/>
<line x1="505.1" y1="485.5" x2="505.1" y2="658.2" stroke="#000" stroke-width="2.1" stroke-linecap="butt"/>
<line x1="497.1" y1="486.5" x2="506.15" y2="486.5" stroke="#000" stroke-width="2" stroke-linecap="butt"/>
<text x="494.5" y="491.9" font-family="'Liberation Sans', sans-serif" font-size="15" font-weight="bold" text-anchor="end" fill="#000">500</text>
<line x1="497.1" y1="520.6" x2="506.15" y2="520.6" stroke="#000" stroke-width="2" stroke-linecap="butt"/>
<text x="494.5" y="526" font-family="'Liberation Sans', sans-serif" font-size="15" font-weight="bold" text-anchor="end" fill="#000">400</text>
<line x1="497.1" y1="554.7" x2="506.15" y2="554.7" stroke="#000" stroke-width="2" stroke-linecap="butt"/>
<text x="494.5" y="560.1" font-family="'Liberation Sans', sans-serif" font-size="15" font-weight="bold" text-anchor="end" fill="#000">300</text>
<line x1="497.1" y1="588.8" x2="506.15" y2="588.8" stroke="#000" stroke-width="2" stroke-linecap="butt"/>
<text x="494.5" y="594.2" font-family="'Liberation Sans', sans-serif" font-size="15" font-weight="bold" text-anchor="end" fill="#000">200</text>
<line x1="497.1" y1="622.9" x2="506.15" y2="622.9" stroke="#000" stroke-width="2" stroke-linecap="butt"/>
<text x="494.5" y="628.3" font-family="'Liberation Sans', sans-serif" font-size="15" font-weight="bold" text-anchor="end" fill="#000">100</text>
<line x1="497.1" y1="657.1" x2="506.15" y2="657.1" stroke="#000" stroke-width="2" stroke-linecap="butt"/>
<text x="494.5" y="662.5" font-family="'Liberation Sans', sans-serif" font-size="15" font-weight="bold" text-anchor="end" fill="#000">0</text>
<line x1="505.1" y1="657.1" x2="676" y2="657.1" stroke="#000" stroke-width="2.2" stroke-linecap="butt"/>
<line x1="531.3" y1="657.1" x2="531.3" y2="664.9" stroke="#000" stroke-width="2.1" stroke-linecap="butt"/>
<line x1="570.6" y1="657.1" x2="570.6" y2="664.9" stroke="#000" stroke-width="2.1" stroke-linecap="butt"/>
<line x1="610" y1="657.1" x2="610" y2="664.9" stroke="#000" stroke-width="2.1" stroke-linecap="butt"/>
<line x1="649.6" y1="657.1" x2="649.6" y2="664.9" stroke="#000" stroke-width="2.1" stroke-linecap="butt"/>
<text transform="translate(458.9 566.7) rotate(-90)" font-family="'Liberation Sans', sans-serif" font-size="15" font-weight="bold" text-anchor="middle" fill="#000">PRO-C4 [ng/ml]</text>
<line x1="531.5" y1="558.5" x2="531.5" y2="579.5" stroke="#474747" stroke-width="1" stroke-linecap="butt"/>
<line x1="524.5" y1="558.5" x2="538.5" y2="558.5" stroke="#474747" stroke-width="1" stroke-linecap="butt"/>
<line x1="531.5" y1="605.5" x2="531.5" y2="649.5" stroke="#474747" stroke-width="1" stroke-linecap="butt"/>
<line x1="524.5" y1="649.5" x2="538.5" y2="649.5" stroke="#474747" stroke-width="1" stroke-linecap="butt"/>
<rect x="519.5" y="579.5" width="23" height="26" fill="#808080" stroke="#505050" stroke-width="1"/>
<line x1="519.5" y1="594.5" x2="542.5" y2="594.5" stroke="#474747" stroke-width="1" stroke-linecap="butt"/>
<text x="531.25" y="588.83" font-family="'Liberation Sans', sans-serif" font-size="10.7"  text-anchor="middle" fill="#101010" stroke="#101010" stroke-width="0.12">n=14</text>
<line x1="570.5" y1="560.5" x2="570.5" y2="587.5" stroke="#474747" stroke-width="1" stroke-linecap="butt"/>
<line x1="563.5" y1="560.5" x2="577.5" y2="560.5" stroke="#474747" stroke-width="1" stroke-linecap="butt"/>
<line x1="570.5" y1="610.5" x2="570.5" y2="639.5" stroke="#474747" stroke-width="1" stroke-linecap="butt"/>
<line x1="563.5" y1="639.5" x2="577.5" y2="639.5" stroke="#474747" stroke-width="1" stroke-linecap="butt"/>
<rect x="559.5" y="587.5" width="23" height="23" fill="#d9d9d9" stroke="#505050" stroke-width="1"/>
<line x1="559.5" y1="604.5" x2="582.5" y2="604.5" stroke="#474747" stroke-width="1" stroke-linecap="butt"/>
<text x="570.7" y="600.83" font-family="'Liberation Sans', sans-serif" font-size="10.7"  text-anchor="middle" fill="#101010" stroke="#101010" stroke-width="0.12">n=38</text>
<line x1="610.5" y1="568.5" x2="610.5" y2="589.5" stroke="#474747" stroke-width="1" stroke-linecap="butt"/>
<line x1="603.5" y1="568.5" x2="617.5" y2="568.5" stroke="#474747" stroke-width="1" stroke-linecap="butt"/>
<line x1="610.5" y1="606.5" x2="610.5" y2="622.5" stroke="#474747" stroke-width="1" stroke-linecap="butt"/>
<line x1="603.5" y1="622.5" x2="617.5" y2="622.5" stroke="#474747" stroke-width="1" stroke-linecap="butt"/>
<rect x="598.5" y="589.5" width="23" height="17" fill="#c8c8c8" stroke="#505050" stroke-width="1"/>
<line x1="598.5" y1="598.5" x2="621.5" y2="598.5" stroke="#474747" stroke-width="1" stroke-linecap="butt"/>
<text x="610.1" y="597.03" font-family="'Liberation Sans', sans-serif" font-size="10.7"  text-anchor="middle" fill="#101010" stroke="#101010" stroke-width="0.12">n=28</text>
<line x1="649.5" y1="594.5" x2="649.5" y2="600.5" stroke="#474747" stroke-width="1" stroke-linecap="butt"/>
<line x1="642.5" y1="594.5" x2="656.5" y2="594.5" stroke="#474747" stroke-width="1" stroke-linecap="butt"/>
<line x1="649.5" y1="613.5" x2="649.5" y2="624.5" stroke="#474747" stroke-width="1" stroke-linecap="butt"/>
<line x1="642.5" y1="624.5" x2="656.5" y2="624.5" stroke="#474747" stroke-width="1" stroke-linecap="butt"/>
<rect x="638.5" y="600.5" width="23" height="13" fill="#ececec" stroke="#505050" stroke-width="1"/>
<line x1="638.5" y1="604.5" x2="661.5" y2="604.5" stroke="#474747" stroke-width="1" stroke-linecap="butt"/>
<text x="649.9" y="613.33" font-family="'Liberation Sans', sans-serif" font-size="10.7"  text-anchor="middle" fill="#101010" stroke="#101010" stroke-width="0.12">n=19</text>
<circle cx="531.3" cy="530.3" r="2.7" fill="#000"/>
<circle cx="570.6" cy="506.8" r="2.7" fill="#000"/>
<circle cx="605" cy="517" r="2.7" fill="#000"/>
<circle cx="615.3" cy="517" r="2.7" fill="#000"/>
<circle cx="610" cy="537" r="2.7" fill="#000"/>
<line x1="76.7" y1="722.6" x2="76.7" y2="755" stroke="#000" stroke-width="2.1" stroke-linecap="butt"/>
<line x1="76.7" y1="771.3" x2="76.7" y2="902.8" stroke="#000" stroke-width="2.1" stroke-linecap="butt"/>
<line x1="66.3" y1="727" x2="77.75" y2="727" stroke="#000" stroke-width="2" stroke-linecap="butt"/>
<text x="63.7" y="732.4" font-family="'Liberation Sans', sans-serif" font-size="15.5" font-weight="bold" text-anchor="end" fill="#000">60</text>
<line x1="66.3" y1="737.4" x2="77.75" y2="737.4" stroke="#000" stroke-width="2" stroke-linecap="butt"/>
<line x1="66.3" y1="747.7" x2="77.75" y2="747.7" stroke="#000" stroke-width="2" stroke-linecap="butt"/>
<text x="63.7" y="753.1" font-family="'Liberation Sans', sans-serif" font-size="15.5" font-weight="bold" text-anchor="end" fill="#000">40</text>
<line x1="68.7" y1="780.9" x2="77.75" y2="780.9" stroke="#000" stroke-width="2" stroke-linecap="butt"/>
<text x="66.1" y="786.3" font-family="'Liberation Sans', sans-serif" font-size="15.5" font-weight="bold" text-anchor="end" fill="#000">30</text>
<line x1="68.7" y1="821.2" x2="77.75" y2="821.2" stroke="#000" stroke-width="2" stroke-linecap="butt"/>
<text x="66.1" y="826.6" font-family="'Liberation Sans', sans-serif" font-size="15.5" font-weight="bold" text-anchor="end" fill="#000">20</text>
<line x1="68.7" y1="861.5" x2="77.75" y2="861.5" stroke="#000" stroke-width="2" stroke-linecap="butt"/>
<text x="66.1" y="866.9" font-family="'Liberation Sans', sans-serif" font-size="15.5" font-weight="bold" text-anchor="end" fill="#000">10</text>
<line x1="68.7" y1="901.75" x2="77.75" y2="901.75" stroke="#000" stroke-width="2" stroke-linecap="butt"/>
<text x="66.1" y="907.15" font-family="'Liberation Sans', sans-serif" font-size="15.5" font-weight="bold" text-anchor="end" fill="#000">0</text>
<line x1="71.3" y1="755" x2="82.1" y2="755" stroke="#000" stroke-width="2" stroke-linecap="butt"/>
<line x1="71.3" y1="771.3" x2="82.1" y2="771.3" stroke="#000" stroke-width="2" stroke-linecap="butt"/>
<line x1="76.7" y1="901.75" x2="196" y2="901.75" stroke="#000" stroke-width="2.2" stroke-linecap="butt"/>
<line x1="111.3" y1="901.75" x2="111.3" y2="909.55" stroke="#000" stroke-width="2.1" stroke-linecap="butt"/>
<line x1="162.5" y1="901.75" x2="162.5" y2="909.55" stroke="#000" stroke-width="2.1" stroke-linecap="butt"/>
<text transform="translate(37.7 806.45) rotate(-90)" font-family="'Liberation Sans', sans-serif" font-size="15.6" font-weight="bold" text-anchor="middle" fill="#000">PRO-C6 [ng/ml]</text>
<line x1="111.5" y1="822.5" x2="111.5" y2="855.5" stroke="#474747" stroke-width="1" stroke-linecap="butt"/>
<line x1="102.5" y1="822.5" x2="120.5" y2="822.5" stroke="#474747" stroke-width="1" stroke-linecap="butt"/>
<line x1="111.5" y1="874.5" x2="111.5" y2="885.5" stroke="#474747" stroke-width="1" stroke-linecap="butt"/>
<line x1="102.5" y1="885.5" x2="120.5" y2="885.5" stroke="#474747" stroke-width="1" stroke-linecap="butt"/>
<rect x="95.5" y="855.5" width="31" height="19" fill="#808080" stroke="#505050" stroke-width="1"/>
<line x1="95.5" y1="869.5" x2="126.5" y2="869.5" stroke="#474747" stroke-width="1" stroke-linecap="butt"/>
<text x="111" y="866.92" font-family="'Liberation Sans', sans-serif" font-size="11.8"  text-anchor="middle" fill="#101010" stroke="#101010" stroke-width="0.12">n=70</text>
<line x1="162.5" y1="796.5" x2="162.5" y2="837.5" stroke="#474747" stroke-width="1" stroke-linecap="butt"/>
<line x1="153.5" y1="796.5" x2="171.5" y2="796.5" stroke="#474747" stroke-width="1" stroke-linecap="butt"/>
<line x1="162.5" y1="867.5" x2="162.5" y2="871.5" stroke="#474747" stroke-width="1" stroke-linecap="butt"/>
<line x1="153.5" y1="871.5" x2="171.5" y2="871.5" stroke="#474747" stroke-width="1" stroke-linecap="butt"/>
<rect x="146.5" y="837.5" width="32" height="30" fill="#d9d9d9" stroke="#505050" stroke-width="1"/>
<line x1="146.5" y1="860.5" x2="178.5" y2="860.5" stroke="#474747" stroke-width="1" stroke-linecap="butt"/>
<text x="162.5" y="854.42" font-family="'Liberation Sans', sans-serif" font-size="11.8"  text-anchor="middle" fill="#101010" stroke="#101010" stroke-width="0.12">n=28</text>
<circle cx="111" cy="726.3" r="2.7" fill="#000"/>
<circle cx="111" cy="734.4" r="2.7" fill="#000"/>
<circle cx="111.3" cy="814.3" r="2.7" fill="#000"/>
<line x1="110.8" y1="704.7" x2="162.5" y2="704.7" stroke="#000" stroke-width="2.2" stroke-linecap="round"/>
<path d="M133 695.3L133.45 690L131.15 690L131.6 695.3ZM132.65 695.91L137.14 693.65L135.99 691.84L131.95 694.69ZM131.95 695.91L135.99 698.95L137.14 696.77L132.65 694.69ZM132.65 694.69L128.61 691.65L127.46 693.83L131.95 695.91ZM131.95 694.69L127.46 696.95L128.61 698.76L132.65 695.91ZM131.6 695.3L131.15 700.6L133.45 700.6L133 695.3Z" fill="#000" stroke="#000" stroke-width="0.35" stroke-linejoin="round"/>
<path d="M144.2 695.3L144.65 690L142.35 690L142.8 695.3ZM143.85 695.91L148.34 693.65L147.19 691.84L143.15 694.69ZM143.15 695.91L147.19 698.95L148.34 696.77L143.85 694.69ZM143.85 694.69L139.81 691.65L138.66 693.83L143.15 695.91ZM143.15 694.69L138.66 696.95L139.81 698.76L143.85 695.91ZM142.8 695.3L142.35 700.6L144.65 700.6L144.2 695.3Z" fill="#000" stroke="#000" stroke-width="0.35" stroke-linejoin="round"/>
<line x1="286.8" y1="724.2" x2="286.8" y2="756" stroke="#000" stroke-width="2.1" stroke-linecap="butt"/>
<line x1="286.8" y1="772" x2="286.8" y2="904" stroke="#000" stroke-width="2.1" stroke-linecap="butt"/>
<line x1="276.4" y1="728" x2="287.85" y2="728" stroke="#000" stroke-width="2" stroke-linecap="butt"/>
<text x="273.8" y="733.4" font-family="'Liberation Sans', sans-serif" font-size="15.5" font-weight="bold" text-anchor="end" fill="#000">60</text>
<line x1="276.4" y1="738.2" x2="287.85" y2="738.2" stroke="#000" stroke-width="2" stroke-linecap="butt"/>
<line x1="276.4" y1="748.3" x2="287.85" y2="748.3" stroke="#000" stroke-width="2" stroke-linecap="butt"/>
<text x="273.8" y="753.7" font-family="'Liberation Sans', sans-serif" font-size="15.5" font-weight="bold" text-anchor="end" fill="#000">40</text>
<line x1="278.8" y1="782" x2="287.85" y2="782" stroke="#000" stroke-width="2" stroke-linecap="butt"/>
<text x="276.2" y="787.4" font-family="'Liberation Sans', sans-serif" font-size="15.5" font-weight="bold" text-anchor="end" fill="#000">30</text>
<line x1="278.8" y1="822.3" x2="287.85" y2="822.3" stroke="#000" stroke-width="2" stroke-linecap="butt"/>
<text x="276.2" y="827.7" font-family="'Liberation Sans', sans-serif" font-size="15.5" font-weight="bold" text-anchor="end" fill="#000">20</text>
<line x1="278.8" y1="862.6" x2="287.85" y2="862.6" stroke="#000" stroke-width="2" stroke-linecap="butt"/>
<text x="276.2" y="868" font-family="'Liberation Sans', sans-serif" font-size="15.5" font-weight="bold" text-anchor="end" fill="#000">10</text>
<line x1="278.8" y1="903" x2="287.85" y2="903" stroke="#000" stroke-width="2" stroke-linecap="butt"/>
<text x="276.2" y="908.4" font-family="'Liberation Sans', sans-serif" font-size="15.5" font-weight="bold" text-anchor="end" fill="#000">0</text>
<line x1="281.4" y1="756" x2="292.2" y2="756" stroke="#000" stroke-width="2" stroke-linecap="butt"/>
<line x1="281.4" y1="772" x2="292.2" y2="772" stroke="#000" stroke-width="2" stroke-linecap="butt"/>
<line x1="286.8" y1="903" x2="406" y2="903" stroke="#000" stroke-width="2.2" stroke-linecap="butt"/>
<line x1="320.8" y1="903" x2="320.8" y2="910.8" stroke="#000" stroke-width="2.1" stroke-linecap="butt"/>
<line x1="372.3" y1="903" x2="372.3" y2="910.8" stroke="#000" stroke-width="2.1" stroke-linecap="butt"/>
<text transform="translate(247.6 807.9) rotate(-90)" font-family="'Liberation Sans', sans-serif" font-size="15.6" font-weight="bold" text-anchor="middle" fill="#000">PRO-C6 [ng/ml]</text>
<line x1="320.5" y1="826.5" x2="320.5" y2="854.5" stroke="#474747" stroke-width="1" stroke-linecap="butt"/>
<line x1="311.5" y1="826.5" x2="329.5" y2="826.5" stroke="#474747" stroke-width="1" stroke-linecap="butt"/>
<line x1="320.5" y1="873.5" x2="320.5" y2="886.5" stroke="#474747" stroke-width="1" stroke-linecap="butt"/>
<line x1="311.5" y1="886.5" x2="329.5" y2="886.5" stroke="#474747" stroke-width="1" stroke-linecap="butt"/>
<rect x="305.5" y="854.5" width="31" height="19" fill="#808080" stroke="#505050" stroke-width="1"/>
<line x1="305.5" y1="867.5" x2="336.5" y2="867.5" stroke="#474747" stroke-width="1" stroke-linecap="butt"/>
<text x="320.9" y="866.22" font-family="'Liberation Sans', sans-serif" font-size="11.8"  text-anchor="middle" fill="#101010" stroke="#101010" stroke-width="0.12">n=43</text>
<line x1="372.5" y1="823.5" x2="372.5" y2="853.5" stroke="#474747" stroke-width="1" stroke-linecap="butt"/>
<line x1="363.5" y1="823.5" x2="381.5" y2="823.5" stroke="#474747" stroke-width="1" stroke-linecap="butt"/>
<line x1="372.5" y1="874.5" x2="372.5" y2="886.5" stroke="#474747" stroke-width="1" stroke-linecap="butt"/>
<line x1="363.5" y1="886.5" x2="381.5" y2="886.5" stroke="#474747" stroke-width="1" stroke-linecap="butt"/>
<rect x="356.5" y="853.5" width="31" height="21" fill="#d9d9d9" stroke="#505050" stroke-width="1"/>
<line x1="356.5" y1="865.5" x2="387.5" y2="865.5" stroke="#474747" stroke-width="1" stroke-linecap="butt"/>
<text x="372.25" y="863.22" font-family="'Liberation Sans', sans-serif" font-size="11.8"  text-anchor="middle" fill="#101010" stroke="#101010" stroke-width="0.12">n=55</text>
<circle cx="320.8" cy="726.8" r="2.7" fill="#000"/>
<circle cx="320.8" cy="797.3" r="2.7" fill="#000"/>
<circle cx="320.8" cy="812.3" r="2.7" fill="#000"/>
<circle cx="310" cy="817.3" r="2.7" fill="#000"/>
<circle cx="331.8" cy="817.3" r="2.7" fill="#000"/>
<circle cx="372.3" cy="735.5" r="2.7" fill="#000"/>
<circle cx="366.8" cy="816.5" r="2.7" fill="#000"/>
<circle cx="377.5" cy="815" r="2.7" fill="#000"/>
<line x1="509" y1="727.5" x2="509" y2="759.3" stroke="#000" stroke-width="2.1" stroke-linecap="butt"/>
<line x1="509" y1="775.3" x2="509" y2="905.3" stroke="#000" stroke-width="2.1" stroke-linecap="butt"/>
<line x1="498.6" y1="732" x2="510.05" y2="732" stroke="#000" stroke-width="2" stroke-linecap="butt"/>
<text x="496" y="737.4" font-family="'Liberation Sans', sans-serif" font-size="15.5" font-weight="bold" text-anchor="end" fill="#000">60</text>
<line x1="498.6" y1="742.1" x2="510.05" y2="742.1" stroke="#000" stroke-width="2" stroke-linecap="butt"/>
<line x1="498.6" y1="752.2" x2="510.05" y2="752.2" stroke="#000" stroke-width="2" stroke-linecap="butt"/>
<text x="496" y="757.6" font-family="'Liberation Sans', sans-serif" font-size="15.5" font-weight="bold" text-anchor="end" fill="#000">40</text>
<line x1="501" y1="785" x2="510.05" y2="785" stroke="#000" stroke-width="2" stroke-linecap="butt"/>
<text x="498.4" y="790.4" font-family="'Liberation Sans', sans-serif" font-size="15.5" font-weight="bold" text-anchor="end" fill="#000">30</text>
<line x1="501" y1="824.75" x2="510.05" y2="824.75" stroke="#000" stroke-width="2" stroke-linecap="butt"/>
<text x="498.4" y="830.15" font-family="'Liberation Sans', sans-serif" font-size="15.5" font-weight="bold" text-anchor="end" fill="#000">20</text>
<line x1="501" y1="864.5" x2="510.05" y2="864.5" stroke="#000" stroke-width="2" stroke-linecap="butt"/>
<text x="498.4" y="869.9" font-family="'Liberation Sans', sans-serif" font-size="15.5" font-weight="bold" text-anchor="end" fill="#000">10</text>
<line x1="501" y1="904.25" x2="510.05" y2="904.25" stroke="#000" stroke-width="2" stroke-linecap="butt"/>
<text x="498.4" y="909.65" font-family="'Liberation Sans', sans-serif" font-size="15.5" font-weight="bold" text-anchor="end" fill="#000">0</text>
<line x1="503.6" y1="759.3" x2="514.4" y2="759.3" stroke="#000" stroke-width="2" stroke-linecap="butt"/>
<line x1="503.6" y1="775.3" x2="514.4" y2="775.3" stroke="#000" stroke-width="2" stroke-linecap="butt"/>
<line x1="509" y1="904.25" x2="685" y2="904.25" stroke="#000" stroke-width="2.2" stroke-linecap="butt"/>
<line x1="535.8" y1="904.25" x2="535.8" y2="912.05" stroke="#000" stroke-width="2.1" stroke-linecap="butt"/>
<line x1="577" y1="904.25" x2="577" y2="912.05" stroke="#000" stroke-width="2.1" stroke-linecap="butt"/>
<line x1="618" y1="904.25" x2="618" y2="912.05" stroke="#000" stroke-width="2.1" stroke-linecap="butt"/>
<line x1="658.8" y1="904.25" x2="658.8" y2="912.05" stroke="#000" stroke-width="2.1" stroke-linecap="butt"/>
<text transform="translate(469.3 810.6) rotate(-90)" font-family="'Liberation Sans', sans-serif" font-size="15.5" font-weight="bold" text-anchor="middle" fill="#000">PRO-C6 [ng/ml]</text>
<line x1="536.5" y1="800.5" x2="536.5" y2="838.5" stroke="#474747" stroke-width="1" stroke-linecap="butt"/>
<line x1="529.5" y1="800.5" x2="543.5" y2="800.5" stroke="#474747" stroke-width="1" stroke-linecap="butt"/>
<line x1="536.5" y1="871.5" x2="536.5" y2="876.5" stroke="#474747" stroke-width="1" stroke-linecap="butt"/>
<line x1="529.5" y1="876.5" x2="543.5" y2="876.5" stroke="#474747" stroke-width="1" stroke-linecap="butt"/>
<rect x="523.5" y="838.5" width="25" height="33" fill="#808080" stroke="#505050" stroke-width="1"/>
<line x1="523.5" y1="856.5" x2="548.5" y2="856.5" stroke="#474747" stroke-width="1" stroke-linecap="butt"/>
<text x="536" y="849.33" font-family="'Liberation Sans', sans-serif" font-size="10.7"  text-anchor="middle" fill="#101010" stroke="#101010" stroke-width="0.12">n=14</text>
<line x1="577.5" y1="843.5" x2="577.5" y2="866.5" stroke="#474747" stroke-width="1" stroke-linecap="butt"/>
<line x1="570.5" y1="843.5" x2="584.5" y2="843.5" stroke="#474747" stroke-width="1" stroke-linecap="butt"/>
<line x1="577.5" y1="879.5" x2="577.5" y2="888.5" stroke="#474747" stroke-width="1" stroke-linecap="butt"/>
<line x1="570.5" y1="888.5" x2="584.5" y2="888.5" stroke="#474747" stroke-width="1" stroke-linecap="butt"/>
<rect x="564.5" y="866.5" width="25" height="13" fill="#d9d9d9" stroke="#505050" stroke-width="1"/>
<line x1="564.5" y1="872.5" x2="589.5" y2="872.5" stroke="#474747" stroke-width="1" stroke-linecap="butt"/>
<text x="577.25" y="900.03" font-family="'Liberation Sans', sans-serif" font-size="10.7"  text-anchor="middle" fill="#101010" stroke="#101010" stroke-width="0.12">n=38</text>
<line x1="618.5" y1="814.5" x2="618.5" y2="839.5" stroke="#474747" stroke-width="1" stroke-linecap="butt"/>
<line x1="611.5" y1="814.5" x2="625.5" y2="814.5" stroke="#474747" stroke-width="1" stroke-linecap="butt"/>
<line x1="618.5" y1="874.5" x2="618.5" y2="883.5" stroke="#474747" stroke-width="1" stroke-linecap="butt"/>
<line x1="611.5" y1="883.5" x2="625.5" y2="883.5" stroke="#474747" stroke-width="1" stroke-linecap="butt"/>
<rect x="605.5" y="839.5" width="25" height="35" fill="#c8c8c8" stroke="#505050" stroke-width="1"/>
<line x1="605.5" y1="862.5" x2="630.5" y2="862.5" stroke="#474747" stroke-width="1" stroke-linecap="butt"/>
<text x="618" y="853.33" font-family="'Liberation Sans', sans-serif" font-size="10.7"  text-anchor="middle" fill="#101010" stroke="#101010" stroke-width="0.12">n=27</text>
<line x1="658.5" y1="832.5" x2="658.5" y2="853.5" stroke="#474747" stroke-width="1" stroke-linecap="butt"/>
<line x1="651.5" y1="832.5" x2="665.5" y2="832.5" stroke="#474747" stroke-width="1" stroke-linecap="butt"/>
<line x1="658.5" y1="872.5" x2="658.5" y2="887.5" stroke="#474747" stroke-width="1" stroke-linecap="butt"/>
<line x1="651.5" y1="887.5" x2="665.5" y2="887.5" stroke="#474747" stroke-width="1" stroke-linecap="butt"/>
<rect x="646.5" y="853.5" width="24" height="19" fill="#ececec" stroke="#505050" stroke-width="1"/>
<line x1="646.5" y1="864.5" x2="670.5" y2="864.5" stroke="#474747" stroke-width="1" stroke-linecap="butt"/>
<text x="658.75" y="863.03" font-family="'Liberation Sans', sans-serif" font-size="10.7"  text-anchor="middle" fill="#101010" stroke="#101010" stroke-width="0.12">n=19</text>
<circle cx="535.8" cy="739.3" r="2.7" fill="#000"/>
<circle cx="571.8" cy="819.8" r="2.7" fill="#000"/>
<circle cx="582.5" cy="817.3" r="2.7" fill="#000"/>
<circle cx="618" cy="730.5" r="2.7" fill="#000"/>
<line x1="535" y1="723.5" x2="573.3" y2="723.5" stroke="#000" stroke-width="2.2" stroke-linecap="round"/>
<path d="M554.8 710.5L555.25 705.2L552.95 705.2L553.4 710.5ZM554.45 711.11L558.94 708.85L557.79 707.04L553.75 709.89ZM553.75 711.11L557.79 714.15L558.94 711.97L554.45 709.89ZM554.45 709.89L550.41 706.85L549.26 709.03L553.75 711.11ZM553.75 709.89L549.26 712.15L550.41 713.96L554.45 711.11ZM553.4 710.5L552.95 715.8L555.25 715.8L554.8 710.5Z" fill="#000" stroke="#000" stroke-width="0.35" stroke-linejoin="round"/>
<line x1="581.7" y1="723.5" x2="620" y2="723.5" stroke="#000" stroke-width="2.2" stroke-linecap="round"/>
<path d="M601.7 712.5L602.15 707.2L599.85 707.2L600.3 712.5ZM601.35 713.11L605.84 710.85L604.69 709.04L600.65 711.89ZM600.65 713.11L604.69 716.15L605.84 713.97L601.35 711.89ZM601.35 711.89L597.31 708.85L596.16 711.03L600.65 713.11ZM600.65 711.89L596.16 714.15L597.31 715.96L601.35 713.11ZM600.3 712.5L599.85 717.8L602.15 717.8L601.7 712.5Z" fill="#000" stroke="#000" stroke-width="0.35" stroke-linejoin="round"/>
<line x1="77.5" y1="946.8" x2="77.5" y2="981" stroke="#000" stroke-width="2.1" stroke-linecap="butt"/>
<line x1="77.5" y1="996.5" x2="77.5" y2="1128.8" stroke="#000" stroke-width="2.1" stroke-linecap="butt"/>
<line x1="67.1" y1="947.8" x2="78.55" y2="947.8" stroke="#000" stroke-width="2" stroke-linecap="butt"/>
<text x="64.5" y="953.2" font-family="'Liberation Sans', sans-serif" font-size="15.5" font-weight="bold" text-anchor="end" fill="#000">70</text>
<line x1="67.1" y1="964.3" x2="78.55" y2="964.3" stroke="#000" stroke-width="2" stroke-linecap="butt"/>
<text x="64.5" y="969.7" font-family="'Liberation Sans', sans-serif" font-size="15.5" font-weight="bold" text-anchor="end" fill="#000">40</text>
<text x="64.5" y="986.4" font-family="'Liberation Sans', sans-serif" font-size="15.5" font-weight="bold" text-anchor="end" fill="#000">10</text>
<text x="66.9" y="1001.9" font-family="'Liberation Sans', sans-serif" font-size="15.5" font-weight="bold" text-anchor="end" fill="#000">10</text>
<line x1="69.5" y1="1023" x2="78.55" y2="1023" stroke="#000" stroke-width="2" stroke-linecap="butt"/>
<text x="66.9" y="1028.4" font-family="'Liberation Sans', sans-serif" font-size="15.5" font-weight="bold" text-anchor="end" fill="#000">8</text>
<line x1="69.5" y1="1049.2" x2="78.55" y2="1049.2" stroke="#000" stroke-width="2" stroke-linecap="butt"/>
<text x="66.9" y="1054.6" font-family="'Liberation Sans', sans-serif" font-size="15.5" font-weight="bold" text-anchor="end" fill="#000">6</text>
<line x1="69.5" y1="1075.4" x2="78.55" y2="1075.4" stroke="#000" stroke-width="2" stroke-linecap="butt"/>
<text x="66.9" y="1080.8" font-family="'Liberation Sans', sans-serif" font-size="15.5" font-weight="bold" text-anchor="end" fill="#000">4</text>
<line x1="69.5" y1="1101.6" x2="78.55" y2="1101.6" stroke="#000" stroke-width="2" stroke-linecap="butt"/>
<text x="66.9" y="1107" font-family="'Liberation Sans', sans-serif" font-size="15.5" font-weight="bold" text-anchor="end" fill="#000">2</text>
<line x1="69.5" y1="1127.75" x2="78.55" y2="1127.75" stroke="#000" stroke-width="2" stroke-linecap="butt"/>
<text x="66.9" y="1133.15" font-family="'Liberation Sans', sans-serif" font-size="15.5" font-weight="bold" text-anchor="end" fill="#000">0</text>
<line x1="72.1" y1="981" x2="82.9" y2="981" stroke="#000" stroke-width="2" stroke-linecap="butt"/>
<line x1="72.1" y1="996.5" x2="82.9" y2="996.5" stroke="#000" stroke-width="2" stroke-linecap="butt"/>
<line x1="77.5" y1="1127.75" x2="197" y2="1127.75" stroke="#000" stroke-width="2.2" stroke-linecap="butt"/>
<line x1="112" y1="1127.75" x2="112" y2="1135.55" stroke="#000" stroke-width="2.1" stroke-linecap="butt"/>
<line x1="163.3" y1="1127.75" x2="163.3" y2="1135.55" stroke="#000" stroke-width="2.1" stroke-linecap="butt"/>
<text transform="translate(38.9 1032.1) rotate(-90)" font-family="'Liberation Sans', sans-serif" font-size="15.6" font-weight="bold" text-anchor="middle" fill="#000">PRO-C18L [ng/ml]</text>
<line x1="111.5" y1="1065.5" x2="111.5" y2="1091.5" stroke="#474747" stroke-width="1" stroke-linecap="butt"/>
<line x1="102.5" y1="1065.5" x2="120.5" y2="1065.5" stroke="#474747" stroke-width="1" stroke-linecap="butt"/>
<rect x="96.5" y="1091.5" width="31" height="16" fill="#808080" stroke="#505050" stroke-width="1"/>
<line x1="96.5" y1="1101.5" x2="127.5" y2="1101.5" stroke="#474747" stroke-width="1" stroke-linecap="butt"/>
<text x="111.9" y="1099.72" font-family="'Liberation Sans', sans-serif" font-size="11.8"  text-anchor="middle" fill="#101010" stroke="#101010" stroke-width="0.12">n=69</text>
<line x1="163.5" y1="1035.5" x2="163.5" y2="1072.5" stroke="#474747" stroke-width="1" stroke-linecap="butt"/>
<line x1="154.5" y1="1035.5" x2="172.5" y2="1035.5" stroke="#474747" stroke-width="1" stroke-linecap="butt"/>
<line x1="163.5" y1="1099.5" x2="163.5" y2="1108.5" stroke="#474747" stroke-width="1" stroke-linecap="butt"/>
<line x1="154.5" y1="1108.5" x2="172.5" y2="1108.5" stroke="#474747" stroke-width="1" stroke-linecap="butt"/>
<rect x="147.5" y="1072.5" width="32" height="27" fill="#d9d9d9" stroke="#505050" stroke-width="1"/>
<line x1="147.5" y1="1089.5" x2="179.5" y2="1089.5" stroke="#474747" stroke-width="1" stroke-linecap="butt"/>
<text x="163.4" y="1085.92" font-family="'Liberation Sans', sans-serif" font-size="11.8"  text-anchor="middle" fill="#101010" stroke="#101010" stroke-width="0.12">n=29</text>
<circle cx="112" cy="960.8" r="2.7" fill="#000"/>
<circle cx="101.3" cy="980.5" r="2.7" fill="#000"/>
<circle cx="112" cy="980.5" r="2.7" fill="#000"/>
<circle cx="122.5" cy="980.5" r="2.7" fill="#000"/>
<circle cx="112" cy="1040.8" r="2.7" fill="#000"/>
<circle cx="122.5" cy="1046.5" r="2.7" fill="#000"/>
<circle cx="112" cy="1050.8" r="2.7" fill="#000"/>
<circle cx="112" cy="1057.5" r="2.7" fill="#000"/>
<circle cx="163.3" cy="978.3" r="2.7" fill="#000"/>
<circle cx="163.3" cy="1021.3" r="2.7" fill="#000"/>
<line x1="111.8" y1="939.3" x2="163.8" y2="939.3" stroke="#000" stroke-width="2.2" stroke-linecap="round"/>
<path d="M137.3 929.1L137.75 923.8L135.45 923.8L135.9 929.1ZM136.95 929.71L141.44 927.45L140.29 925.64L136.25 928.49ZM136.25 929.71L140.29 932.75L141.44 930.57L136.95 928.49ZM136.95 928.49L132.91 925.45L131.76 927.63L136.25 929.71ZM136.25 928.49L131.76 930.75L132.91 932.56L136.95 929.71ZM135.9 929.1L135.45 934.4L137.75 934.4L137.3 929.1Z" fill="#000" stroke="#000" stroke-width="0.35" stroke-linejoin="round"/>
<line x1="287.3" y1="947.8" x2="287.3" y2="982" stroke="#000" stroke-width="2.1" stroke-linecap="butt"/>
<line x1="287.3" y1="997.5" x2="287.3" y2="1129.8" stroke="#000" stroke-width="2.1" stroke-linecap="butt"/>
<line x1="276.9" y1="948.8" x2="288.35" y2="948.8" stroke="#000" stroke-width="2" stroke-linecap="butt"/>
<text x="274.3" y="954.2" font-family="'Liberation Sans', sans-serif" font-size="15.5" font-weight="bold" text-anchor="end" fill="#000">70</text>
<line x1="276.9" y1="965.4" x2="288.35" y2="965.4" stroke="#000" stroke-width="2" stroke-linecap="butt"/>
<text x="274.3" y="970.8" font-family="'Liberation Sans', sans-serif" font-size="15.5" font-weight="bold" text-anchor="end" fill="#000">40</text>
<text x="274.3" y="987.4" font-family="'Liberation Sans', sans-serif" font-size="15.5" font-weight="bold" text-anchor="end" fill="#000">10</text>
<text x="276.7" y="1002.9" font-family="'Liberation Sans', sans-serif" font-size="15.5" font-weight="bold" text-anchor="end" fill="#000">10</text>
<line x1="279.3" y1="1024" x2="288.35" y2="1024" stroke="#000" stroke-width="2" stroke-linecap="butt"/>
<text x="276.7" y="1029.4" font-family="'Liberation Sans', sans-serif" font-size="15.5" font-weight="bold" text-anchor="end" fill="#000">8</text>
<line x1="279.3" y1="1050.2" x2="288.35" y2="1050.2" stroke="#000" stroke-width="2" stroke-linecap="butt"/>
<text x="276.7" y="1055.6" font-family="'Liberation Sans', sans-serif" font-size="15.5" font-weight="bold" text-anchor="end" fill="#000">6</text>
<line x1="279.3" y1="1076.4" x2="288.35" y2="1076.4" stroke="#000" stroke-width="2" stroke-linecap="butt"/>
<text x="276.7" y="1081.8" font-family="'Liberation Sans', sans-serif" font-size="15.5" font-weight="bold" text-anchor="end" fill="#000">4</text>
<line x1="279.3" y1="1102.6" x2="288.35" y2="1102.6" stroke="#000" stroke-width="2" stroke-linecap="butt"/>
<text x="276.7" y="1108" font-family="'Liberation Sans', sans-serif" font-size="15.5" font-weight="bold" text-anchor="end" fill="#000">2</text>
<line x1="279.3" y1="1128.75" x2="288.35" y2="1128.75" stroke="#000" stroke-width="2" stroke-linecap="butt"/>
<text x="276.7" y="1134.15" font-family="'Liberation Sans', sans-serif" font-size="15.5" font-weight="bold" text-anchor="end" fill="#000">0</text>
<line x1="281.9" y1="982" x2="292.7" y2="982" stroke="#000" stroke-width="2" stroke-linecap="butt"/>
<line x1="281.9" y1="997.5" x2="292.7" y2="997.5" stroke="#000" stroke-width="2" stroke-linecap="butt"/>
<line x1="287.3" y1="1128.75" x2="406.5" y2="1128.75" stroke="#000" stroke-width="2.2" stroke-linecap="butt"/>
<line x1="321.3" y1="1128.75" x2="321.3" y2="1136.55" stroke="#000" stroke-width="2.1" stroke-linecap="butt"/>
<line x1="372.5" y1="1128.75" x2="372.5" y2="1136.55" stroke="#000" stroke-width="2.1" stroke-linecap="butt"/>
<text transform="translate(248.3 1032.75) rotate(-90)" font-family="'Liberation Sans', sans-serif" font-size="15.6" font-weight="bold" text-anchor="middle" fill="#000">PRO-C18L [ng/ml]</text>
<line x1="321.5" y1="1036.5" x2="321.5" y2="1081.5" stroke="#474747" stroke-width="1" stroke-linecap="butt"/>
<line x1="312.5" y1="1036.5" x2="330.5" y2="1036.5" stroke="#474747" stroke-width="1" stroke-linecap="butt"/>
<line x1="321.5" y1="1108.5" x2="321.5" y2="1110.5" stroke="#474747" stroke-width="1" stroke-linecap="butt"/>
<line x1="312.5" y1="1110.5" x2="330.5" y2="1110.5" stroke="#474747" stroke-width="1" stroke-linecap="butt"/>
<rect x="305.5" y="1081.5" width="31" height="27" fill="#808080" stroke="#505050" stroke-width="1"/>
<line x1="305.5" y1="1098.5" x2="336.5" y2="1098.5" stroke="#474747" stroke-width="1" stroke-linecap="butt"/>
<text x="321.35" y="1093.42" font-family="'Liberation Sans', sans-serif" font-size="11.8"  text-anchor="middle" fill="#101010" stroke="#101010" stroke-width="0.12">n=44</text>
<line x1="372.5" y1="1051.5" x2="372.5" y2="1086.5" stroke="#474747" stroke-width="1" stroke-linecap="butt"/>
<line x1="363.5" y1="1051.5" x2="381.5" y2="1051.5" stroke="#474747" stroke-width="1" stroke-linecap="butt"/>
<rect x="357.5" y="1086.5" width="31" height="22" fill="#d9d9d9" stroke="#505050" stroke-width="1"/>
<line x1="357.5" y1="1102.5" x2="388.5" y2="1102.5" stroke="#474747" stroke-width="1" stroke-linecap="butt"/>
<text x="372.6" y="1098.72" font-family="'Liberation Sans', sans-serif" font-size="11.8"  text-anchor="middle" fill="#101010" stroke="#101010" stroke-width="0.12">n=54</text>
<circle cx="321.3" cy="981.3" r="2.7" fill="#000"/>
<circle cx="321.3" cy="1022.3" r="2.7" fill="#000"/>
<circle cx="372.5" cy="961.8" r="2.7" fill="#000"/>
<circle cx="361.8" cy="981.3" r="2.7" fill="#000"/>
<circle cx="372.5" cy="979.3" r="2.7" fill="#000"/>
<circle cx="383" cy="981.3" r="2.7" fill="#000"/>
<circle cx="372.5" cy="1042.5" r="2.7" fill="#000"/>
<circle cx="372.5" cy="1047.3" r="2.7" fill="#000"/>
<line x1="506.3" y1="959.8" x2="506.3" y2="990.5" stroke="#000" stroke-width="2.1" stroke-linecap="butt"/>
<line x1="506.3" y1="1005.3" x2="506.3" y2="1127.8" stroke="#000" stroke-width="2.1" stroke-linecap="butt"/>
<line x1="495.9" y1="960.8" x2="507.35" y2="960.8" stroke="#000" stroke-width="2" stroke-linecap="butt"/>
<text x="493.3" y="966.2" font-family="'Liberation Sans', sans-serif" font-size="14.2" font-weight="bold" text-anchor="end" fill="#000">70</text>
<line x1="495.9" y1="975.7" x2="507.35" y2="975.7" stroke="#000" stroke-width="2" stroke-linecap="butt"/>
<text x="493.3" y="981.1" font-family="'Liberation Sans', sans-serif" font-size="14.2" font-weight="bold" text-anchor="end" fill="#000">40</text>
<text x="493.3" y="995.9" font-family="'Liberation Sans', sans-serif" font-size="14.2" font-weight="bold" text-anchor="end" fill="#000">10</text>
<text x="495.7" y="1010.7" font-family="'Liberation Sans', sans-serif" font-size="14.2" font-weight="bold" text-anchor="end" fill="#000">10</text>
<line x1="498.3" y1="1029.6" x2="507.35" y2="1029.6" stroke="#000" stroke-width="2" stroke-linecap="butt"/>
<text x="495.7" y="1035" font-family="'Liberation Sans', sans-serif" font-size="14.2" font-weight="bold" text-anchor="end" fill="#000">8</text>
<line x1="498.3" y1="1053.9" x2="507.35" y2="1053.9" stroke="#000" stroke-width="2" stroke-linecap="butt"/>
<text x="495.7" y="1059.3" font-family="'Liberation Sans', sans-serif" font-size="14.2" font-weight="bold" text-anchor="end" fill="#000">6</text>
<line x1="498.3" y1="1078.2" x2="507.35" y2="1078.2" stroke="#000" stroke-width="2" stroke-linecap="butt"/>
<text x="495.7" y="1083.6" font-family="'Liberation Sans', sans-serif" font-size="14.2" font-weight="bold" text-anchor="end" fill="#000">4</text>
<line x1="498.3" y1="1102.5" x2="507.35" y2="1102.5" stroke="#000" stroke-width="2" stroke-linecap="butt"/>
<text x="495.7" y="1107.9" font-family="'Liberation Sans', sans-serif" font-size="14.2" font-weight="bold" text-anchor="end" fill="#000">2</text>
<line x1="498.3" y1="1126.75" x2="507.35" y2="1126.75" stroke="#000" stroke-width="2" stroke-linecap="butt"/>
<text x="495.7" y="1132.15" font-family="'Liberation Sans', sans-serif" font-size="14.2" font-weight="bold" text-anchor="end" fill="#000">0</text>
<line x1="500.9" y1="990.5" x2="511.7" y2="990.5" stroke="#000" stroke-width="2" stroke-linecap="butt"/>
<line x1="500.9" y1="1005.3" x2="511.7" y2="1005.3" stroke="#000" stroke-width="2" stroke-linecap="butt"/>
<line x1="506.3" y1="1126.75" x2="678.5" y2="1126.75" stroke="#000" stroke-width="2.2" stroke-linecap="butt"/>
<line x1="531.3" y1="1126.75" x2="531.3" y2="1134.55" stroke="#000" stroke-width="2.1" stroke-linecap="butt"/>
<line x1="569.6" y1="1126.75" x2="569.6" y2="1134.55" stroke="#000" stroke-width="2.1" stroke-linecap="butt"/>
<line x1="608" y1="1126.75" x2="608" y2="1134.55" stroke="#000" stroke-width="2.1" stroke-linecap="butt"/>
<line x1="646.3" y1="1126.75" x2="646.3" y2="1134.55" stroke="#000" stroke-width="2.1" stroke-linecap="butt"/>
<text transform="translate(469.9 1038.05) rotate(-90)" font-family="'Liberation Sans', sans-serif" font-size="14.5" font-weight="bold" text-anchor="middle" fill="#000">PRO-C18L [ng/ml]</text>
<line x1="531.5" y1="1040.5" x2="531.5" y2="1073.5" stroke="#474747" stroke-width="1" stroke-linecap="butt"/>
<line x1="524.5" y1="1040.5" x2="538.5" y2="1040.5" stroke="#474747" stroke-width="1" stroke-linecap="butt"/>
<line x1="531.5" y1="1106.5" x2="531.5" y2="1109.5" stroke="#474747" stroke-width="1" stroke-linecap="butt"/>
<line x1="524.5" y1="1109.5" x2="538.5" y2="1109.5" stroke="#474747" stroke-width="1" stroke-linecap="butt"/>
<rect x="519.5" y="1073.5" width="23" height="33" fill="#808080" stroke="#505050" stroke-width="1"/>
<line x1="519.5" y1="1096.5" x2="542.5" y2="1096.5" stroke="#474747" stroke-width="1" stroke-linecap="butt"/>
<text x="531.25" y="1086.33" font-family="'Liberation Sans', sans-serif" font-size="10.7"  text-anchor="middle" fill="#101010" stroke="#101010" stroke-width="0.12">n=14</text>
<line x1="570.5" y1="1069.5" x2="570.5" y2="1090.5" stroke="#474747" stroke-width="1" stroke-linecap="butt"/>
<line x1="563.5" y1="1069.5" x2="577.5" y2="1069.5" stroke="#474747" stroke-width="1" stroke-linecap="butt"/>
<rect x="558.5" y="1090.5" width="23" height="17" fill="#d9d9d9" stroke="#505050" stroke-width="1"/>
<line x1="558.5" y1="1099.5" x2="581.5" y2="1099.5" stroke="#474747" stroke-width="1" stroke-linecap="butt"/>
<text x="570" y="1100.03" font-family="'Liberation Sans', sans-serif" font-size="10.7"  text-anchor="middle" fill="#101010" stroke="#101010" stroke-width="0.12">n=38</text>
<line x1="608.5" y1="1046.5" x2="608.5" y2="1076.5" stroke="#474747" stroke-width="1" stroke-linecap="butt"/>
<line x1="601.5" y1="1046.5" x2="615.5" y2="1046.5" stroke="#474747" stroke-width="1" stroke-linecap="butt"/>
<line x1="608.5" y1="1107.5" x2="608.5" y2="1109.5" stroke="#474747" stroke-width="1" stroke-linecap="butt"/>
<line x1="601.5" y1="1109.5" x2="615.5" y2="1109.5" stroke="#474747" stroke-width="1" stroke-linecap="butt"/>
<rect x="596.5" y="1076.5" width="23" height="31" fill="#c8c8c8" stroke="#505050" stroke-width="1"/>
<line x1="596.5" y1="1096.5" x2="619.5" y2="1096.5" stroke="#474747" stroke-width="1" stroke-linecap="butt"/>
<text x="608.25" y="1091.03" font-family="'Liberation Sans', sans-serif" font-size="10.7"  text-anchor="middle" fill="#101010" stroke="#101010" stroke-width="0.12">n=28</text>
<line x1="646.5" y1="1055.5" x2="646.5" y2="1087.5" stroke="#474747" stroke-width="1" stroke-linecap="butt"/>
<line x1="639.5" y1="1055.5" x2="653.5" y2="1055.5" stroke="#474747" stroke-width="1" stroke-linecap="butt"/>
<rect x="634.5" y="1087.5" width="23" height="20" fill="#ececec" stroke="#505050" stroke-width="1"/>
<line x1="634.5" y1="1107.5" x2="657.5" y2="1107.5" stroke="#474747" stroke-width="1" stroke-linecap="butt"/>
<text x="646.25" y="1100.53" font-family="'Liberation Sans', sans-serif" font-size="10.7"  text-anchor="middle" fill="#101010" stroke="#101010" stroke-width="0.12">n=18</text>
<circle cx="531.3" cy="990" r="2.7" fill="#000"/>
<circle cx="569.6" cy="990" r="2.7" fill="#000"/>
<circle cx="569.6" cy="1028" r="2.7" fill="#000"/>
<circle cx="603" cy="990" r="2.7" fill="#000"/>
<circle cx="613" cy="988.3" r="2.7" fill="#000"/>
<circle cx="646.3" cy="972.3" r="2.7" fill="#000"/>
<circle cx="646.8" cy="1051.5" r="2.7" fill="#000"/>
<text y="46" font-family="'Liberation Sans', sans-serif" font-size="21.8" fill="#000"><tspan x="-0.2">a</tspan><tspan x="12.7">)</tspan></text>
<text y="276.8" font-family="'Liberation Sans', sans-serif" font-size="21.8" fill="#000"><tspan x="-0.1">b</tspan><tspan x="12.7">)</tspan></text>
<text y="487.1" font-family="'Liberation Sans', sans-serif" font-size="21.8" fill="#000"><tspan x="2.2">c</tspan><tspan x="13.9">)</tspan></text>
<text y="700.1" font-family="'Liberation Sans', sans-serif" font-size="21.8" fill="#000"><tspan x="0.3">d</tspan><tspan x="13.9">)</tspan></text>
<text y="945.2" font-family="'Liberation Sans', sans-serif" font-size="21.8" fill="#000"><tspan x="0.4">e</tspan><tspan x="13.9">)</tspan></text>
<line x1="73.8" y1="1158.6" x2="200.7" y2="1158.6" stroke="#000" stroke-width="1.5" stroke-linecap="butt"/>
<path d="M205.3 1158.6 L199.7 1155.8 L199.7 1161.4 Z" fill="#000"/>
<line x1="111.8" y1="1149" x2="111.8" y2="1159.35" stroke="#000" stroke-width="1.8" stroke-linecap="butt"/>
<line x1="163" y1="1149" x2="163" y2="1159.35" stroke="#000" stroke-width="1.8" stroke-linecap="butt"/>
<line x1="283.8" y1="1157.5" x2="411.2" y2="1157.5" stroke="#000" stroke-width="1.5" stroke-linecap="butt"/>
<path d="M415.8 1157.5 L410.2 1154.7 L410.2 1160.3 Z" fill="#000"/>
<line x1="321.3" y1="1147.9" x2="321.3" y2="1158.25" stroke="#000" stroke-width="1.8" stroke-linecap="butt"/>
<line x1="372.8" y1="1147.9" x2="372.8" y2="1158.25" stroke="#000" stroke-width="1.8" stroke-linecap="butt"/>
<line x1="503.8" y1="1166.4" x2="679" y2="1166.4" stroke="#000" stroke-width="1.85" stroke-linecap="butt"/>
<path d="M685.4 1166.4 L678 1162.7 L678 1170.1 Z" fill="#000"/>
<line x1="530.9" y1="1157.8" x2="530.9" y2="1167.33" stroke="#000" stroke-width="1.9" stroke-linecap="butt"/>
<line x1="569.5" y1="1157.8" x2="569.5" y2="1167.33" stroke="#000" stroke-width="1.9" stroke-linecap="butt"/>
<line x1="607.7" y1="1157.8" x2="607.7" y2="1167.33" stroke="#000" stroke-width="1.9" stroke-linecap="butt"/>
<line x1="645.8" y1="1157.8" x2="645.8" y2="1167.33" stroke="#000" stroke-width="1.9" stroke-linecap="butt"/>
<text x="112.1" y="1181.2" font-family="'Liberation Sans', sans-serif" font-size="15.3" font-weight="bold" text-anchor="middle" fill="#000">F&lt;2</text>
<text x="163.4" y="1181.2" font-family="'Liberation Sans', sans-serif" font-size="15.3" font-weight="bold" text-anchor="middle" fill="#000">F≥2</text>
<text x="301" y="1181.2" font-family="'Liberation Sans', sans-serif" font-size="15.6" font-weight="bold" text-anchor="start" fill="#000" textLength="96.8" lengthAdjust="spacing">DSA + DSA -</text>
<text transform="translate(538.7 1181.6) rotate(-45)" font-family="'Liberation Sans', sans-serif" font-size="12.6" font-weight="bold" text-anchor="end" fill="#000">cTCMR</text>
<text transform="translate(577.3 1181.6) rotate(-45)" font-family="'Liberation Sans', sans-serif" font-size="12.6" font-weight="bold" text-anchor="end" fill="#000">subTCMR</text>
<text transform="translate(615.5 1181.6) rotate(-45)" font-family="'Liberation Sans', sans-serif" font-size="12.6" font-weight="bold" text-anchor="end" fill="#000">IND</text>
<text transform="translate(653.6 1181.6) rotate(-45)" font-family="'Liberation Sans', sans-serif" font-size="12.6" font-weight="bold" text-anchor="end" fill="#000">NHR</text>
</svg>
</body></html>
